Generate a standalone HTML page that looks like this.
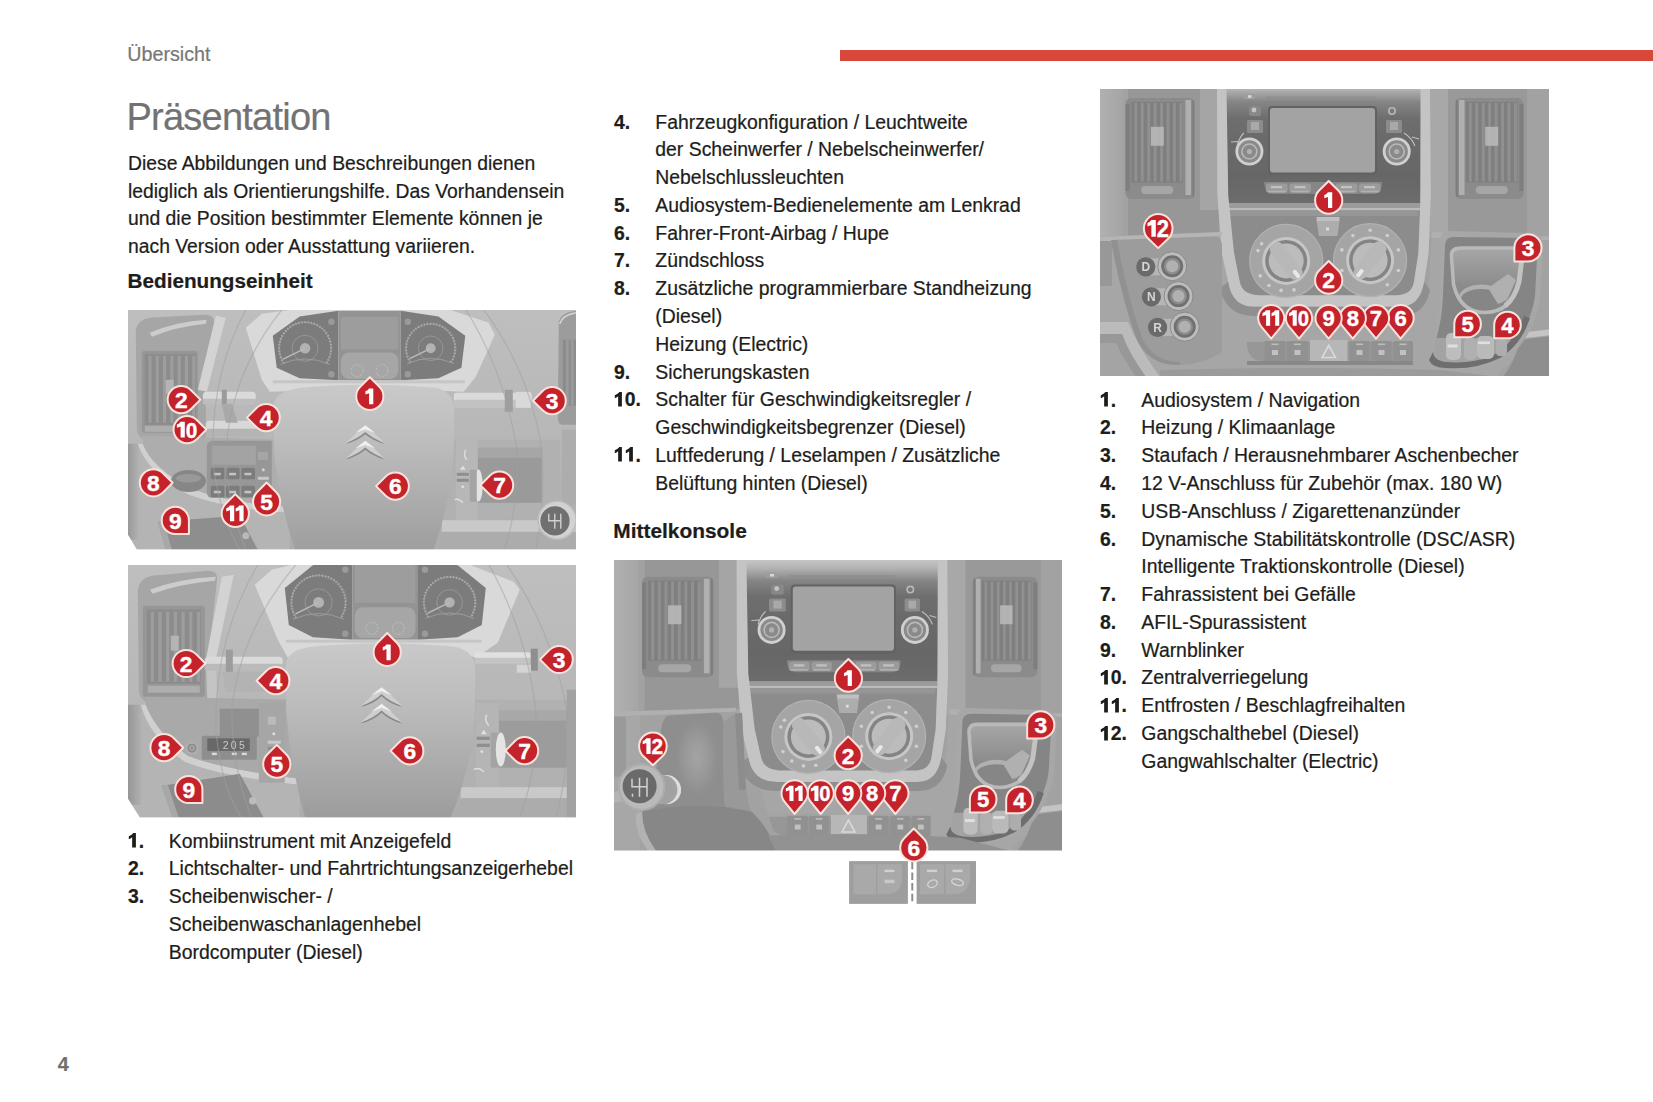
<!DOCTYPE html>
<html lang="de"><head><meta charset="utf-8"><title>Übersicht</title>
<style>
html,body{margin:0;padding:0;background:#fff;}
body{width:1653px;height:1102px;position:relative;overflow:hidden;font-family:"Liberation Sans",sans-serif;}
.t{position:absolute;white-space:nowrap;line-height:27.78px;height:27.78px;-webkit-text-stroke:0.22px currentColor;}
.bar{position:absolute;left:840px;top:49.5px;width:813px;height:11.5px;background:#d7483b;}
svg{position:absolute;overflow:hidden;}
svg.n1{position:static;display:inline-block;overflow:visible;vertical-align:baseline;}
svg text{font-family:"Liberation Sans",sans-serif;font-weight:700;fill:#fff;text-anchor:middle;}
</style></head><body>
<div class="bar"></div>
<svg width="0" height="0" style="position:absolute"><defs>
<filter id="soft" x="-2%" y="-2%" width="104%" height="104%"><feGaussianBlur stdDeviation="0.75"/></filter>
</defs></svg>

<div class="t" style="left:127.3px;top:40.58px;font-size:19.7px;color:#777777;">Übersicht</div>
<div class="t" style="left:126.4px;top:104.14px;font-size:38px;color:#727272;letter-spacing:-0.75px;">Präsentation</div>
<div class="t" style="left:128px;top:149.81px;font-size:19.33px;color:#1d1d1b;">Diese Abbildungen und Beschreibungen dienen</div>
<div class="t" style="left:128px;top:177.61px;font-size:19.33px;color:#1d1d1b;">lediglich als Orientierungshilfe. Das Vorhandensein</div>
<div class="t" style="left:128px;top:205.41px;font-size:19.33px;color:#1d1d1b;">und die Position bestimmter Elemente können je</div>
<div class="t" style="left:128px;top:233.11px;font-size:19.33px;color:#1d1d1b;">nach Version oder Ausstattung variieren.</div>
<div class="t" style="left:127.6px;top:267.14px;font-size:20.7px;font-weight:700;color:#1d1d1b;">Bedienungseinheit</div>
<div class="t" style="left:128px;top:827.69px;font-size:19.4px;font-weight:700;color:#1d1d1b;"><svg class="n1" width="10.79" height="14.5" viewBox="0 -14.5 10.79 14.5"><path d="M5.4,-14.5 L7.9,-14.5 L7.9,0 L4.15,0 L4.15,-10.3 Q2.6,-9.0 0.8,-8.3 L0.8,-11.3 Q4.1,-12.4 5.4,-14.5 Z" fill="#1d1d1b"/></svg>.</div>
<div class="t" style="left:168.8px;top:827.69px;font-size:19.4px;color:#1d1d1b;">Kombiinstrument mit Anzeigefeld</div>
<div class="t" style="left:128px;top:855.47px;font-size:19.4px;font-weight:700;color:#1d1d1b;">2.</div>
<div class="t" style="left:168.8px;top:855.47px;font-size:19.4px;color:#1d1d1b;">Lichtschalter- und Fahrtrichtungsanzeigerhebel</div>
<div class="t" style="left:128px;top:883.25px;font-size:19.4px;font-weight:700;color:#1d1d1b;">3.</div>
<div class="t" style="left:168.8px;top:883.25px;font-size:19.4px;color:#1d1d1b;">Scheibenwischer- /</div>
<div class="t" style="left:168.8px;top:911.03px;font-size:19.4px;color:#1d1d1b;">Scheibenwaschanlagenhebel</div>
<div class="t" style="left:168.8px;top:938.81px;font-size:19.4px;color:#1d1d1b;">Bordcomputer (Diesel)</div>
<div class="t" style="left:614px;top:108.59px;font-size:19.4px;font-weight:700;color:#1d1d1b;">4.</div>
<div class="t" style="left:655.3px;top:108.59px;font-size:19.4px;color:#1d1d1b;">Fahrzeugkonfiguration / Leuchtweite</div>
<div class="t" style="left:655.3px;top:136.37px;font-size:19.4px;color:#1d1d1b;">der Scheinwerfer / Nebelscheinwerfer/</div>
<div class="t" style="left:655.3px;top:164.15px;font-size:19.4px;color:#1d1d1b;">Nebelschlussleuchten</div>
<div class="t" style="left:614px;top:191.93px;font-size:19.4px;font-weight:700;color:#1d1d1b;">5.</div>
<div class="t" style="left:655.3px;top:191.93px;font-size:19.4px;color:#1d1d1b;">Audiosystem-Bedienelemente am Lenkrad</div>
<div class="t" style="left:614px;top:219.71px;font-size:19.4px;font-weight:700;color:#1d1d1b;">6.</div>
<div class="t" style="left:655.3px;top:219.71px;font-size:19.4px;color:#1d1d1b;">Fahrer-Front-Airbag / Hupe</div>
<div class="t" style="left:614px;top:247.49px;font-size:19.4px;font-weight:700;color:#1d1d1b;">7.</div>
<div class="t" style="left:655.3px;top:247.49px;font-size:19.4px;color:#1d1d1b;">Zündschloss</div>
<div class="t" style="left:614px;top:275.27px;font-size:19.4px;font-weight:700;color:#1d1d1b;">8.</div>
<div class="t" style="left:655.3px;top:275.27px;font-size:19.4px;color:#1d1d1b;">Zusätzliche programmierbare Standheizung</div>
<div class="t" style="left:655.3px;top:303.05px;font-size:19.4px;color:#1d1d1b;">(Diesel)</div>
<div class="t" style="left:655.3px;top:330.83px;font-size:19.4px;color:#1d1d1b;">Heizung (Electric)</div>
<div class="t" style="left:614px;top:358.61px;font-size:19.4px;font-weight:700;color:#1d1d1b;">9.</div>
<div class="t" style="left:655.3px;top:358.61px;font-size:19.4px;color:#1d1d1b;">Sicherungskasten</div>
<div class="t" style="left:614px;top:386.39px;font-size:19.4px;font-weight:700;color:#1d1d1b;"><svg class="n1" width="10.79" height="14.5" viewBox="0 -14.5 10.79 14.5"><path d="M5.4,-14.5 L7.9,-14.5 L7.9,0 L4.15,0 L4.15,-10.3 Q2.6,-9.0 0.8,-8.3 L0.8,-11.3 Q4.1,-12.4 5.4,-14.5 Z" fill="#1d1d1b"/></svg>0.</div>
<div class="t" style="left:655.3px;top:386.39px;font-size:19.4px;color:#1d1d1b;">Schalter für Geschwindigkeitsregler /</div>
<div class="t" style="left:655.3px;top:414.17px;font-size:19.4px;color:#1d1d1b;">Geschwindigkeitsbegrenzer (Diesel)</div>
<div class="t" style="left:614px;top:441.95px;font-size:19.4px;font-weight:700;color:#1d1d1b;"><svg class="n1" width="10.79" height="14.5" viewBox="0 -14.5 10.79 14.5"><path d="M5.4,-14.5 L7.9,-14.5 L7.9,0 L4.15,0 L4.15,-10.3 Q2.6,-9.0 0.8,-8.3 L0.8,-11.3 Q4.1,-12.4 5.4,-14.5 Z" fill="#1d1d1b"/></svg><svg class="n1" width="10.79" height="14.5" viewBox="0 -14.5 10.79 14.5"><path d="M5.4,-14.5 L7.9,-14.5 L7.9,0 L4.15,0 L4.15,-10.3 Q2.6,-9.0 0.8,-8.3 L0.8,-11.3 Q4.1,-12.4 5.4,-14.5 Z" fill="#1d1d1b"/></svg>.</div>
<div class="t" style="left:655.3px;top:441.95px;font-size:19.4px;color:#1d1d1b;">Luftfederung / Leselampen / Zusätzliche</div>
<div class="t" style="left:655.3px;top:469.73px;font-size:19.4px;color:#1d1d1b;">Belüftung hinten (Diesel)</div>
<div class="t" style="left:613.3px;top:517.12px;font-size:20.9px;font-weight:700;color:#1d1d1b;">Mittelkonsole</div>
<div class="t" style="left:1100px;top:386.69px;font-size:19.4px;font-weight:700;color:#1d1d1b;"><svg class="n1" width="10.79" height="14.5" viewBox="0 -14.5 10.79 14.5"><path d="M5.4,-14.5 L7.9,-14.5 L7.9,0 L4.15,0 L4.15,-10.3 Q2.6,-9.0 0.8,-8.3 L0.8,-11.3 Q4.1,-12.4 5.4,-14.5 Z" fill="#1d1d1b"/></svg>.</div>
<div class="t" style="left:1141.3px;top:386.69px;font-size:19.4px;color:#1d1d1b;">Audiosystem / Navigation</div>
<div class="t" style="left:1100px;top:414.47px;font-size:19.4px;font-weight:700;color:#1d1d1b;">2.</div>
<div class="t" style="left:1141.3px;top:414.47px;font-size:19.4px;color:#1d1d1b;">Heizung / Klimaanlage</div>
<div class="t" style="left:1100px;top:442.25px;font-size:19.4px;font-weight:700;color:#1d1d1b;">3.</div>
<div class="t" style="left:1141.3px;top:442.25px;font-size:19.4px;color:#1d1d1b;">Staufach / Herausnehmbarer Aschenbecher</div>
<div class="t" style="left:1100px;top:470.03px;font-size:19.4px;font-weight:700;color:#1d1d1b;">4.</div>
<div class="t" style="left:1141.3px;top:470.03px;font-size:19.4px;color:#1d1d1b;">12 V-Anschluss für Zubehör (max. 180 W)</div>
<div class="t" style="left:1100px;top:497.81px;font-size:19.4px;font-weight:700;color:#1d1d1b;">5.</div>
<div class="t" style="left:1141.3px;top:497.81px;font-size:19.4px;color:#1d1d1b;">USB-Anschluss / Zigarettenanzünder</div>
<div class="t" style="left:1100px;top:525.59px;font-size:19.4px;font-weight:700;color:#1d1d1b;">6.</div>
<div class="t" style="left:1141.3px;top:525.59px;font-size:19.4px;color:#1d1d1b;">Dynamische Stabilitätskontrolle (DSC/ASR)</div>
<div class="t" style="left:1141.3px;top:553.37px;font-size:19.4px;color:#1d1d1b;">Intelligente Traktionskontrolle (Diesel)</div>
<div class="t" style="left:1100px;top:581.15px;font-size:19.4px;font-weight:700;color:#1d1d1b;">7.</div>
<div class="t" style="left:1141.3px;top:581.15px;font-size:19.4px;color:#1d1d1b;">Fahrassistent bei Gefälle</div>
<div class="t" style="left:1100px;top:608.93px;font-size:19.4px;font-weight:700;color:#1d1d1b;">8.</div>
<div class="t" style="left:1141.3px;top:608.93px;font-size:19.4px;color:#1d1d1b;">AFIL-Spurassistent</div>
<div class="t" style="left:1100px;top:636.71px;font-size:19.4px;font-weight:700;color:#1d1d1b;">9.</div>
<div class="t" style="left:1141.3px;top:636.71px;font-size:19.4px;color:#1d1d1b;">Warnblinker</div>
<div class="t" style="left:1100px;top:664.49px;font-size:19.4px;font-weight:700;color:#1d1d1b;"><svg class="n1" width="10.79" height="14.5" viewBox="0 -14.5 10.79 14.5"><path d="M5.4,-14.5 L7.9,-14.5 L7.9,0 L4.15,0 L4.15,-10.3 Q2.6,-9.0 0.8,-8.3 L0.8,-11.3 Q4.1,-12.4 5.4,-14.5 Z" fill="#1d1d1b"/></svg>0.</div>
<div class="t" style="left:1141.3px;top:664.49px;font-size:19.4px;color:#1d1d1b;">Zentralverriegelung</div>
<div class="t" style="left:1100px;top:692.27px;font-size:19.4px;font-weight:700;color:#1d1d1b;"><svg class="n1" width="10.79" height="14.5" viewBox="0 -14.5 10.79 14.5"><path d="M5.4,-14.5 L7.9,-14.5 L7.9,0 L4.15,0 L4.15,-10.3 Q2.6,-9.0 0.8,-8.3 L0.8,-11.3 Q4.1,-12.4 5.4,-14.5 Z" fill="#1d1d1b"/></svg><svg class="n1" width="10.79" height="14.5" viewBox="0 -14.5 10.79 14.5"><path d="M5.4,-14.5 L7.9,-14.5 L7.9,0 L4.15,0 L4.15,-10.3 Q2.6,-9.0 0.8,-8.3 L0.8,-11.3 Q4.1,-12.4 5.4,-14.5 Z" fill="#1d1d1b"/></svg>.</div>
<div class="t" style="left:1141.3px;top:692.27px;font-size:19.4px;color:#1d1d1b;">Entfrosten / Beschlagfreihalten</div>
<div class="t" style="left:1100px;top:720.05px;font-size:19.4px;font-weight:700;color:#1d1d1b;"><svg class="n1" width="10.79" height="14.5" viewBox="0 -14.5 10.79 14.5"><path d="M5.4,-14.5 L7.9,-14.5 L7.9,0 L4.15,0 L4.15,-10.3 Q2.6,-9.0 0.8,-8.3 L0.8,-11.3 Q4.1,-12.4 5.4,-14.5 Z" fill="#1d1d1b"/></svg>2.</div>
<div class="t" style="left:1141.3px;top:720.05px;font-size:19.4px;color:#1d1d1b;">Gangschalthebel (Diesel)</div>
<div class="t" style="left:1141.3px;top:747.83px;font-size:19.4px;color:#1d1d1b;">Gangwahlschalter (Electric)</div>
<div class="t" style="left:57.8px;top:1050.85px;font-size:19.8px;font-weight:700;color:#707070;">4</div>
<svg style="left:128.2px;top:310.2px" width="448" height="239.6" viewBox="128.2 310.2 448 239.6">
<defs>
<clipPath id="c1"><path d="M128.2,310.2 H576.2 V549.8 H137 L128.2,535 Z"/></clipPath>
<linearGradient id="hub1" x1="0" y1="0" x2="0" y2="1"><stop offset="0" stop-color="#c9c9c9"/><stop offset="0.35" stop-color="#bcbcbc"/><stop offset="1" stop-color="#9e9e9e"/></linearGradient>
<linearGradient id="bg1" x1="0" y1="0" x2="0" y2="1"><stop offset="0" stop-color="#bfbfbf"/><stop offset="0.6" stop-color="#b6b6b6"/><stop offset="1" stop-color="#ababab"/></linearGradient>
<linearGradient id="lft1" x1="0" y1="0" x2="1" y2="0"><stop offset="0" stop-color="#989898"/><stop offset="1" stop-color="#b2b2b2"/></linearGradient>
</defs><g clip-path="url(#c1)"><g filter="url(#soft)">
<rect x="120.0" y="300.0" width="470.0" height="260.0" fill="url(#bg1)"/>
<path d="M136.0,330.0 Q138.0,320.0 150.0,318.0 L205.0,315.0 Q216.0,315.0 214.0,326.0 L206.0,395.0 L206.0,440.0 L150.0,442.0 Q138.0,440.0 137.0,428.0 Z" fill="#a6a6a6"/>
<path d="M150.0,333.0 Q175.0,322.0 207.0,320.0 L206.0,324.0 Q176.0,327.0 152.0,337.0 Z" fill="#cccccc"/>
<rect x="142.0" y="351.0" width="56.0" height="82.0" rx="3" fill="#969696"/>
<rect x="145.0" y="354.0" width="51.0" height="71.0" fill="#8c8c8c"/>
<rect x="148.6" y="356.0" width="3.1" height="67.0" fill="#9d9d9d"/>
<rect x="155.9" y="356.0" width="3.1" height="67.0" fill="#9d9d9d"/>
<rect x="163.2" y="356.0" width="3.1" height="67.0" fill="#9d9d9d"/>
<rect x="170.5" y="356.0" width="3.1" height="67.0" fill="#9d9d9d"/>
<rect x="177.8" y="356.0" width="3.1" height="67.0" fill="#9d9d9d"/>
<rect x="185.1" y="356.0" width="3.1" height="67.0" fill="#9d9d9d"/>
<rect x="192.4" y="356.0" width="3.1" height="67.0" fill="#9d9d9d"/>
<rect x="166.0" y="380.0" width="8.0" height="14.0" fill="#b4b4b4"/>
<rect x="145.0" y="426.0" width="52.0" height="6.0" fill="#aeaeae"/>
<path d="M216.0,316.0 L226.0,318.0 L207.0,392.0 L198.0,390.0 Z" fill="#d3d3d3"/>
<path d="M128.0,444.0 L140.0,444.0 Q150.0,470.0 190.0,492.0 Q230.0,508.0 290.0,512.0 L290.0,560.0 L128.0,560.0 Z" fill="#b4b4b4"/>
<path d="M128.0,444.0 L139.0,444.0 L139.0,540.0 L128.0,540.0 Z" fill="url(#lft1)"/>
<path d="M138.0,444.0 L143.0,444.0 Q152.0,468.0 192.0,489.0 Q232.0,504.0 290.0,507.0 L290.0,513.0 Q230.0,510.0 189.0,495.0 Q148.0,474.0 138.0,444.0 Z" fill="#d0d0d0"/>
<path d="M143.0,444.0 Q152.0,468.0 192.0,489.0 Q232.0,504.0 290.0,507.0 L290.0,440.0 L143.0,436.0 Z" fill="#adadad"/>
<path d="M158.0,522.0 L240.0,516.0 L258.0,550.0 L166.0,550.0 Z" fill="#8e8e8e"/>
<path d="M158.0,522.0 L164.0,521.0 L172.0,550.0 L166.0,550.0 Z" fill="#a8a8a8"/>
<circle cx="246.0" cy="536.0" r="3.5" fill="#b9b9b9"/>
<path d="M246.0,328.0 L262.0,314.0 L292.0,310.0 L450.0,310.0 L489.0,323.0 L495.0,335.0 L476.0,377.0 L464.0,392.0 L440.0,391.0 L300.0,391.0 L270.0,392.0 L262.0,380.0 Z" fill="#d9d9d9"/>
<path d="M273.0,336.0 L299.9,316.6 L338.6,311.0 L338.6,380.5 L299.9,378.4 L276.9,368.0 Z" fill="#7c7c7c"/>
<path d="M465.5,336.0 L438.6,316.6 L401.0,311.0 L401.0,380.5 L438.6,378.4 L461.6,368.0 Z" fill="#7c7c7c"/>
<rect x="338.6" y="311.0" width="62.4" height="69.5" fill="#939393"/>
<rect x="341.1" y="317.0" width="57.4" height="32.7" fill="#9d9d9d"/>
<rect x="341.1" y="352.7" width="57.4" height="26.4" rx="8" fill="#a6a6a6"/>
<circle cx="357.3" cy="370.8" r="6" fill="none" stroke="#c0c0c0" stroke-width="1.2" stroke-dasharray="1,1.5"/>
<circle cx="382.3" cy="370.8" r="6" fill="none" stroke="#c0c0c0" stroke-width="1.2" stroke-dasharray="1,1.5"/>
<path d="M284.1,363.4 A26.0,26.0 0 1 1 326.6,363.4" fill="none" stroke="#b4b4b4" stroke-width="2.2" stroke-dasharray="1.2,1.9"/>
<path d="M284.1,363.4 A26.0,26.0 0 1 1 326.6,363.4" fill="none" stroke="#a2a2a2" stroke-width="0.8" transform="translate(0,0)"/>
<circle cx="305.3" cy="348.5" r="12.99375" fill="none" stroke="#969696" stroke-width="1"/>
<circle cx="305.3" cy="348.5" r="5.197500000000001" fill="#b2b2b2"/>
<path d="M305.3,348.5 L283.3,359.4" fill="none" stroke="#bcbcbc" stroke-width="1.3"/>
<path d="M280.7,364.6 Q305.3,353.7 330.0,364.6" fill="none" stroke="#9c9c9c" stroke-width="1"/>
<path d="M410.7,362.7 A24.6,24.6 0 1 1 451.0,362.7" fill="none" stroke="#b4b4b4" stroke-width="2.2" stroke-dasharray="1.2,1.9"/>
<path d="M410.7,362.7 A24.6,24.6 0 1 1 451.0,362.7" fill="none" stroke="#a2a2a2" stroke-width="0.8" transform="translate(0,0)"/>
<circle cx="430.9" cy="348.5" r="12.32" fill="none" stroke="#969696" stroke-width="1"/>
<circle cx="430.9" cy="348.5" r="4.928000000000001" fill="#b2b2b2"/>
<path d="M430.9,348.5 L409.9,358.9" fill="none" stroke="#bcbcbc" stroke-width="1.3"/>
<path d="M407.4,363.8 Q430.9,353.5 454.3,363.8" fill="none" stroke="#9c9c9c" stroke-width="1"/>
<circle cx="331.6" cy="322.0" r="3.2" fill="#9a9a9a"/>
<circle cx="331.6" cy="374.5" r="3.2" fill="#9a9a9a"/>
<circle cx="408.0" cy="322.0" r="3.2" fill="#9a9a9a"/>
<circle cx="408.0" cy="374.5" r="3.2" fill="#9a9a9a"/>
<rect x="273.0" y="380.5" width="192.0" height="3.0" fill="#c6c6c6"/>
<rect x="203.0" y="392.0" width="53.0" height="9.0" rx="4" fill="#dadada"/>
<rect x="203.0" y="399.0" width="53.0" height="6.0" rx="2" fill="#bdbdbd"/>
<rect x="222.0" y="390.0" width="5.0" height="16.0" fill="#9a9a9a"/>
<rect x="206.0" y="421.0" width="58.0" height="10.0" rx="4" fill="#d8d8d8"/>
<rect x="206.0" y="429.0" width="58.0" height="7.0" rx="2" fill="#b4b4b4"/>
<path d="M222.0,404.0 L232.0,404.0 L238.0,423.0 L226.0,423.0 Z" fill="#a9a9a9"/>
<path d="M207.0,446.0 Q208.0,441.0 214.0,441.0 L272.0,441.0 L272.0,498.0 L212.0,498.0 Q207.0,498.0 207.0,492.0 Z" fill="#979797"/>
<rect x="212.0" y="446.0" width="44.0" height="19.0" fill="#a3a3a3"/>
<rect x="211.0" y="468.0" width="13.5" height="11.5" rx="1.5" fill="#7b7b7b"/>
<rect x="214.0" y="473.0" width="7.0" height="2.5" fill="#c4c4c4"/>
<rect x="226.3" y="468.0" width="13.5" height="11.5" rx="1.5" fill="#7b7b7b"/>
<rect x="229.3" y="473.0" width="7.0" height="2.5" fill="#c4c4c4"/>
<rect x="241.6" y="468.0" width="13.5" height="11.5" rx="1.5" fill="#7b7b7b"/>
<rect x="244.6" y="473.0" width="7.0" height="2.5" fill="#c4c4c4"/>
<rect x="211.0" y="486.0" width="13.5" height="11.5" rx="1.5" fill="#7b7b7b"/>
<rect x="214.0" y="491.0" width="7.0" height="2.5" fill="#c4c4c4"/>
<rect x="226.3" y="486.0" width="13.5" height="11.5" rx="1.5" fill="#7b7b7b"/>
<rect x="229.3" y="491.0" width="7.0" height="2.5" fill="#c4c4c4"/>
<rect x="241.6" y="486.0" width="13.5" height="11.5" rx="1.5" fill="#7b7b7b"/>
<rect x="244.6" y="491.0" width="7.0" height="2.5" fill="#c4c4c4"/>
<rect x="258.0" y="452.0" width="10.0" height="8.0" fill="#b0b0b0" opacity="0.6"/>
<circle cx="263.5" cy="470.0" r="1.5" fill="#d5d5d5"/>
<rect x="258.0" y="477.0" width="11.0" height="3.0" fill="#c9c9c9"/>
<ellipse cx="188.7" cy="481.2" rx="17.5" ry="11" fill="#878787"/>
<ellipse cx="188.7" cy="478.5" rx="12.5" ry="4.2" fill="#999999"/>
<path d="M454.0,440.0 L560.0,440.0 L560.0,520.0 L442.0,520.0 Z" fill="#b1b1b1"/>
<rect x="478.0" y="448.0" width="64.0" height="55.0" fill="#9a9a9a"/>
<rect x="478.0" y="448.0" width="64.0" height="10.0" fill="#a6a6a6"/>
<rect x="456.0" y="440.0" width="22.0" height="80.0" fill="#b7b7b7"/>
<path d="M466.0,450.0 Q463.0,455.0 467.0,460.0" fill="none" stroke="#dcdcdc" stroke-width="1.5"/>
<rect x="457.0" y="473.0" width="12.0" height="3.0" fill="#8e8e8e"/>
<rect x="457.0" y="479.0" width="12.0" height="3.0" fill="#8e8e8e"/>
<path d="M463.0,466.0 L466.0,470.0 L460.0,470.0 Z" fill="#e0e0e0"/>
<circle cx="463.0" cy="487.0" r="1.4" fill="#e0e0e0"/>
<path d="M455.0,500.0 Q459.0,498.0 463.0,503.0" fill="none" stroke="#dcdcdc" stroke-width="1.5"/>
<ellipse cx="478.7" cy="485.7" rx="4.2" ry="16" fill="#e4e4e4"/>
<rect x="470.0" y="470.0" width="7.0" height="32.0" fill="#a4a4a4"/>
<rect x="442.0" y="520.4" width="134.0" height="12.0" fill="#c9c9c9"/>
<rect x="442.0" y="532.0" width="134.0" height="20.0" fill="#acacac"/>
<rect x="562.0" y="430.0" width="15.0" height="75.0" fill="#adadad"/>
<rect x="454.0" y="393.0" width="78.0" height="9.0" rx="3" fill="#dadada"/>
<rect x="454.0" y="400.0" width="78.0" height="8.0" rx="2" fill="#c2c2c2"/>
<rect x="505.0" y="390.0" width="8.0" height="22.0" fill="#9e9e9e"/>
<rect x="516.0" y="392.0" width="15.0" height="16.0" fill="#d9d9d9"/>
<path d="M559.0,322.0 Q562.0,312.0 577.0,311.0 L577.0,425.0 L562.0,425.0 Q558.0,424.0 558.0,418.0 Z" fill="#9c9c9c"/>
<rect x="563.0" y="340.0" width="14.0" height="66.0" fill="#8b8b8b"/>
<rect x="566.0" y="340.0" width="3.0" height="66.0" fill="#9a9a9a"/>
<rect x="571.0" y="340.0" width="3.0" height="66.0" fill="#9a9a9a"/>
<path d="M560.0,324.0 Q563.0,315.0 576.0,313.0" fill="none" stroke="#d6d6d6" stroke-width="1.6"/>
<path d="M246.0,310.0 Q208.0,380.0 214.0,470.0 Q222.0,520.0 240.0,550.0" fill="none" stroke="#a0a0a0" stroke-width="1.2" stroke-opacity="0.55"/>
<path d="M282.0,310.0 Q232.0,372.0 226.0,450.0 Q226.0,500.0 246.0,550.0" fill="none" stroke="#a0a0a0" stroke-width="1.2" stroke-opacity="0.55"/>
<path d="M466.0,310.0 Q505.0,372.0 517.0,450.0 Q520.0,500.0 505.0,550.0" fill="none" stroke="#a0a0a0" stroke-width="1.2" stroke-opacity="0.55"/>
<path d="M484.0,310.0 Q530.0,372.0 542.0,450.0 Q546.0,500.0 536.0,550.0" fill="none" stroke="#a0a0a0" stroke-width="1.2" stroke-opacity="0.55"/>
<path d="M274.0,404.0 Q276.0,392.0 300.0,388.0 Q365.0,382.0 436.0,388.0 Q454.0,392.0 454.5,410.0 L454.0,450.0 Q452.0,500.0 433.0,552.0 L296.0,552.0 Q278.0,500.0 274.0,450.0 Z" fill="url(#hub1)"/>
<path d="M346.5,444.2 Q356.9,435.4 365.5,428.0 Q374.1,435.4 384.5,444.2 Q373.1,440.9 365.5,434.5 Q357.9,440.9 346.5,444.2 Z" fill="#8a8a8a"/>
<path d="M346.5,443.0 Q356.9,432.7 365.5,425.0 Q374.1,432.7 384.5,443.0 Q373.1,438.8 365.5,432.2 Q357.9,438.8 346.5,443.0 Z" fill="#cfcfcf"/>
<path d="M356.0,432.9 Q361.7,428.3 365.5,425.8 Q369.3,428.3 375.0,432.9 L365.5,429.6 Z" fill="#f0f0f0"/>
<path d="M346.5,459.7 Q356.9,450.9 365.5,443.5 Q374.1,450.9 384.5,459.7 Q373.1,456.4 365.5,450.0 Q357.9,456.4 346.5,459.7 Z" fill="#8a8a8a"/>
<path d="M346.5,458.5 Q356.9,448.2 365.5,440.5 Q374.1,448.2 384.5,458.5 Q373.1,454.2 365.5,447.7 Q357.9,454.2 346.5,458.5 Z" fill="#cfcfcf"/>
<path d="M356.0,448.4 Q361.7,443.8 365.5,441.3 Q369.3,443.8 375.0,448.4 L365.5,445.1 Z" fill="#f0f0f0"/>
<circle cx="557.3" cy="520.4" r="19" fill="#d2d2d2"/>
<circle cx="557.3" cy="520.4" r="19" fill="none" stroke="#bdbdbd" stroke-width="1.5"/>
<circle cx="555.2" cy="521.1" r="14.6" fill="#707070"/>
<path d="M549.0,514.0 L549.0,521.0 L555.0,521.0 M555.0,514.0 L555.0,529.0 M561.0,514.0 L561.0,529.0 M555.0,521.0 L561.0,521.0" fill="none" stroke="#d0d0d0" stroke-width="1.4"/>
</g></g>
<g transform="translate(370.0,396.6)"><g transform="scale(1.0,1)"><path transform="rotate(0)" d="M0,-19.23 L9.62,-9.62 A13.6,13.6 0 1 1 -9.62,-9.62 Z" fill="#c4232b" stroke="#f9e2dc" stroke-width="2.0" stroke-linejoin="round"/></g><g transform="scale(1.0)"><path d="M-1.4,-7.9 L2.9,-7.9 L2.9,7.9 L-1.3,7.9 L-1.3,-3.2 L-5.0,-1.9 L-5.0,-5.2 Q-2.4,-5.9 -1.4,-7.9 Z" fill="#fff" transform="translate(0.6,0)"/></g></g>
<g transform="translate(181.4,399.8)"><g transform="scale(1.0,1)"><path transform="rotate(90)" d="M0,-19.23 L9.62,-9.62 A13.6,13.6 0 1 1 -9.62,-9.62 Z" fill="#c4232b" stroke="#f9e2dc" stroke-width="2.0" stroke-linejoin="round"/></g><g transform="scale(1.0)"><text x="0" y="8.1" font-size="22.8" stroke="#fff" stroke-width="0.4">2</text></g></g>
<g transform="translate(552.4,400.9)"><g transform="scale(1.0,1)"><path transform="rotate(270)" d="M0,-19.23 L9.62,-9.62 A13.6,13.6 0 1 1 -9.62,-9.62 Z" fill="#c4232b" stroke="#f9e2dc" stroke-width="2.0" stroke-linejoin="round"/></g><g transform="scale(1.0)"><text x="0" y="8.1" font-size="22.8" stroke="#fff" stroke-width="0.4">3</text></g></g>
<g transform="translate(266.4,417.8)"><g transform="scale(1.0,1)"><path transform="rotate(270)" d="M0,-19.23 L9.62,-9.62 A13.6,13.6 0 1 1 -9.62,-9.62 Z" fill="#c4232b" stroke="#f9e2dc" stroke-width="2.0" stroke-linejoin="round"/></g><g transform="scale(1.0)"><text x="0" y="8.1" font-size="22.8" stroke="#fff" stroke-width="0.4">4</text></g></g>
<g transform="translate(266.8,502.0)"><g transform="scale(1.0,1)"><path transform="rotate(0)" d="M0,-19.23 L9.62,-9.62 A13.6,13.6 0 1 1 -9.62,-9.62 Z" fill="#c4232b" stroke="#f9e2dc" stroke-width="2.0" stroke-linejoin="round"/></g><g transform="scale(1.0)"><text x="0" y="8.1" font-size="22.8" stroke="#fff" stroke-width="0.4">5</text></g></g>
<g transform="translate(395.5,486.3)"><g transform="scale(1.0,1)"><path transform="rotate(270)" d="M0,-19.23 L9.62,-9.62 A13.6,13.6 0 1 1 -9.62,-9.62 Z" fill="#c4232b" stroke="#f9e2dc" stroke-width="2.0" stroke-linejoin="round"/></g><g transform="scale(1.0)"><text x="0" y="8.1" font-size="22.8" stroke="#fff" stroke-width="0.4">6</text></g></g>
<g transform="translate(499.8,485.4)"><g transform="scale(1.0,1)"><path transform="rotate(270)" d="M0,-19.23 L9.62,-9.62 A13.6,13.6 0 1 1 -9.62,-9.62 Z" fill="#c4232b" stroke="#f9e2dc" stroke-width="2.0" stroke-linejoin="round"/></g><g transform="scale(1.0)"><text x="0" y="8.1" font-size="22.8" stroke="#fff" stroke-width="0.4">7</text></g></g>
<g transform="translate(153.6,483.0)"><g transform="scale(1.0,1)"><path transform="rotate(90)" d="M0,-19.23 L9.62,-9.62 A13.6,13.6 0 1 1 -9.62,-9.62 Z" fill="#c4232b" stroke="#f9e2dc" stroke-width="2.0" stroke-linejoin="round"/></g><g transform="scale(1.0)"><text x="0" y="8.1" font-size="22.8" stroke="#fff" stroke-width="0.4">8</text></g></g>
<g transform="translate(175.5,520.6)"><g transform="scale(1.0,1)"><path transform="rotate(135)" d="M0,-19.23 L9.62,-9.62 A13.6,13.6 0 1 1 -9.62,-9.62 Z" fill="#c4232b" stroke="#f9e2dc" stroke-width="2.0" stroke-linejoin="round"/></g><g transform="scale(1.0)"><text x="0" y="8.1" font-size="22.8" stroke="#fff" stroke-width="0.4">9</text></g></g>
<g transform="translate(187.3,429.8)"><g transform="scale(1.0,1)"><path transform="rotate(90)" d="M0,-19.23 L9.62,-9.62 A13.6,13.6 0 1 1 -9.62,-9.62 Z" fill="#c4232b" stroke="#f9e2dc" stroke-width="2.0" stroke-linejoin="round"/></g><g transform="scale(1.0)"><path d="M-1.4,-7.9 L2.9,-7.9 L2.9,7.9 L-1.3,7.9 L-1.3,-3.2 L-5.0,-1.9 L-5.0,-5.2 Q-2.4,-5.9 -1.4,-7.9 Z" fill="#fff" transform="translate(-5.2,0)"/><text x="4.4" y="7.9" font-size="22.2" textLength="11.6" lengthAdjust="spacingAndGlyphs" stroke="#fff" stroke-width="0.4">0</text></g></g>
<g transform="translate(235.5,513.6)"><g transform="scale(1.0,1)"><path transform="rotate(0)" d="M0,-19.23 L9.62,-9.62 A13.6,13.6 0 1 1 -9.62,-9.62 Z" fill="#c4232b" stroke="#f9e2dc" stroke-width="2.0" stroke-linejoin="round"/></g><g transform="scale(1.0)"><path d="M-1.4,-7.9 L2.9,-7.9 L2.9,7.9 L-1.3,7.9 L-1.3,-3.2 L-5.0,-1.9 L-5.0,-5.2 Q-2.4,-5.9 -1.4,-7.9 Z" fill="#fff" transform="translate(-4.0,0)"/><path d="M-1.4,-7.9 L2.9,-7.9 L2.9,7.9 L-1.3,7.9 L-1.3,-3.2 L-5.0,-1.9 L-5.0,-5.2 Q-2.4,-5.9 -1.4,-7.9 Z" fill="#fff" transform="translate(5.4,0)"/></g></g>
</svg>
<svg style="left:128.2px;top:565.3px" width="448.2" height="252.6" viewBox="128.2 565.3 448.2 252.6">
<defs>
<clipPath id="c2"><path d="M128.2,565.3 H576.4 V817.9 H140 L128.2,799 Z"/></clipPath>
<linearGradient id="hub2" x1="0" y1="0" x2="0" y2="1"><stop offset="0" stop-color="#c9c9c9"/><stop offset="0.35" stop-color="#bcbcbc"/><stop offset="1" stop-color="#9c9c9c"/></linearGradient>
<linearGradient id="bg2" x1="0" y1="0" x2="0" y2="1"><stop offset="0" stop-color="#bfbfbf"/><stop offset="0.6" stop-color="#b6b6b6"/><stop offset="1" stop-color="#ababab"/></linearGradient>
<linearGradient id="lft2" x1="0" y1="0" x2="1" y2="0"><stop offset="0" stop-color="#969696"/><stop offset="1" stop-color="#b2b2b2"/></linearGradient>
</defs><g clip-path="url(#c2)"><g filter="url(#soft)">
<rect x="120.0" y="555.0" width="470.0" height="275.0" fill="url(#bg2)"/>
<path d="M138.0,590.0 Q140.0,578.0 152.0,576.0 L208.0,571.0 Q219.0,571.0 217.0,582.0 L209.0,655.0 L209.0,702.0 L152.0,704.0 Q140.0,702.0 139.0,690.0 Z" fill="#a6a6a6"/>
<path d="M150.0,590.0 Q178.0,579.0 216.0,577.0 L215.0,581.0 Q180.0,584.0 153.0,594.0 Z" fill="#cccccc"/>
<rect x="143.0" y="606.0" width="62.0" height="91.0" rx="3" fill="#969696"/>
<rect x="147.0" y="610.0" width="54.0" height="74.0" fill="#8c8c8c"/>
<rect x="150.9" y="612.0" width="3.2" height="70.0" fill="#9d9d9d"/>
<rect x="158.6" y="612.0" width="3.2" height="70.0" fill="#9d9d9d"/>
<rect x="166.3" y="612.0" width="3.2" height="70.0" fill="#9d9d9d"/>
<rect x="174.0" y="612.0" width="3.2" height="70.0" fill="#9d9d9d"/>
<rect x="181.7" y="612.0" width="3.2" height="70.0" fill="#9d9d9d"/>
<rect x="189.4" y="612.0" width="3.2" height="70.0" fill="#9d9d9d"/>
<rect x="197.1" y="612.0" width="3.2" height="70.0" fill="#9d9d9d"/>
<rect x="171.0" y="636.0" width="8.0" height="15.0" fill="#b4b4b4"/>
<rect x="148.0" y="686.0" width="52.0" height="7.0" fill="#aeaeae"/>
<path d="M222.0,577.0 L234.0,575.0 L216.0,660.0 L206.0,660.0 Z" fill="#d3d3d3"/>
<path d="M206.0,660.0 L216.0,660.0 L218.0,712.0 L208.0,712.0 Z" fill="#c4c4c4"/>
<path d="M128.0,705.0 L143.0,705.0 Q150.0,730.0 186.0,757.0 Q222.0,772.0 300.0,782.0 L300.0,830.0 L128.0,830.0 Z" fill="#b4b4b4"/>
<path d="M128.0,705.0 L142.0,705.0 L142.0,805.0 L128.0,805.0 Z" fill="url(#lft2)"/>
<path d="M141.0,705.0 L146.0,705.0 Q156.0,732.0 188.0,756.0 Q224.0,770.0 300.0,779.0 L300.0,785.0 Q222.0,777.0 185.0,762.0 Q150.0,738.0 141.0,705.0 Z" fill="#d0d0d0"/>
<path d="M146.0,705.0 Q156.0,732.0 188.0,756.0 Q224.0,770.0 300.0,779.0 L300.0,700.0 L146.0,697.0 Z" fill="#a9a9a9"/>
<path d="M162.0,786.0 L202.0,780.0 L240.0,774.0 L264.0,818.0 L173.0,818.0 Z" fill="#8c8c8c"/>
<path d="M162.0,786.0 L168.0,785.0 L179.0,818.0 L173.0,818.0 Z" fill="#a8a8a8"/>
<circle cx="253.0" cy="801.0" r="3.8" fill="#bcbcbc"/>
<path d="M255.0,585.0 L272.0,570.0 L292.0,565.0 L470.0,565.0 L514.0,582.0 L520.0,590.0 L498.0,643.0 L476.0,658.0 L452.0,650.0 L310.0,650.0 L288.0,658.0 L278.0,640.0 Z" fill="#d9d9d9"/>
<path d="M285.0,588.2 L313.1,565.5 L352.5,559.0 L352.5,640.0 L313.1,637.6 L289.0,625.4 Z" fill="#7c7c7c"/>
<path d="M486.0,588.2 L457.9,565.5 L418.2,559.0 L418.2,640.0 L457.9,637.6 L482.0,625.4 Z" fill="#7c7c7c"/>
<rect x="352.5" y="559.0" width="65.7" height="81.0" fill="#939393"/>
<rect x="355.0" y="565.0" width="60.7" height="38.1" fill="#9d9d9d"/>
<rect x="355.0" y="607.6" width="60.7" height="30.8" rx="8" fill="#a6a6a6"/>
<circle cx="372.2" cy="628.7" r="6" fill="none" stroke="#c0c0c0" stroke-width="1.2" stroke-dasharray="1,1.5"/>
<circle cx="398.5" cy="628.7" r="6" fill="none" stroke="#c0c0c0" stroke-width="1.2" stroke-dasharray="1,1.5"/>
<path d="M296.5,618.3 A27.1,27.1 0 1 1 341.0,618.3" fill="none" stroke="#b4b4b4" stroke-width="2.2" stroke-dasharray="1.2,1.9"/>
<path d="M296.5,618.3 A27.1,27.1 0 1 1 341.0,618.3" fill="none" stroke="#a2a2a2" stroke-width="0.8" transform="translate(0,0)"/>
<circle cx="318.8" cy="602.7" r="13.5675" fill="none" stroke="#969696" stroke-width="1"/>
<circle cx="318.8" cy="602.7" r="5.4270000000000005" fill="#b2b2b2"/>
<path d="M318.8,602.7 L295.7,614.1" fill="none" stroke="#bcbcbc" stroke-width="1.3"/>
<path d="M293.0,619.6 Q318.8,608.2 344.5,619.6" fill="none" stroke="#9c9c9c" stroke-width="1"/>
<path d="M428.7,617.5 A25.7,25.7 0 1 1 470.9,617.5" fill="none" stroke="#b4b4b4" stroke-width="2.2" stroke-dasharray="1.2,1.9"/>
<path d="M428.7,617.5 A25.7,25.7 0 1 1 470.9,617.5" fill="none" stroke="#a2a2a2" stroke-width="0.8" transform="translate(0,0)"/>
<circle cx="449.8" cy="602.7" r="12.864" fill="none" stroke="#969696" stroke-width="1"/>
<circle cx="449.8" cy="602.7" r="5.145600000000001" fill="#b2b2b2"/>
<path d="M449.8,602.7 L428.0,613.5" fill="none" stroke="#bcbcbc" stroke-width="1.3"/>
<path d="M425.4,618.7 Q449.8,607.9 474.3,618.7" fill="none" stroke="#9c9c9c" stroke-width="1"/>
<circle cx="345.5" cy="570.0" r="3.2" fill="#9a9a9a"/>
<circle cx="345.5" cy="634.0" r="3.2" fill="#9a9a9a"/>
<circle cx="425.2" cy="570.0" r="3.2" fill="#9a9a9a"/>
<circle cx="425.2" cy="634.0" r="3.2" fill="#9a9a9a"/>
<rect x="286.0" y="640.0" width="196.0" height="3.0" fill="#c6c6c6"/>
<rect x="205.0" y="657.0" width="78.0" height="9.0" rx="4" fill="#dadada"/>
<rect x="205.0" y="664.0" width="78.0" height="7.0" rx="2" fill="#bababa"/>
<rect x="226.0" y="650.0" width="7.0" height="26.0" fill="#9c9c9c"/>
<path d="M222.0,672.0 L280.0,672.0 L280.0,692.0 L226.0,692.0 Z" fill="#b3b3b3"/>
<rect x="220.0" y="709.0" width="40.0" height="28.0" fill="#909090"/>
<rect x="202.0" y="736.0" width="55.0" height="24.0" rx="1.5" fill="#8e8e8e"/>
<rect x="207.5" y="738.7" width="42.5" height="12.5" fill="#686868"/>
<text x="234" y="749.6" font-size="10.5" style="fill:#c9c9c9;font-weight:400" textLength="22">205</text>
<rect x="212.0" y="753.0" width="5.0" height="2.4" fill="#dadada"/>
<rect x="232.0" y="753.0" width="5.0" height="2.4" fill="#dadada"/>
<rect x="242.0" y="753.0" width="5.0" height="2.4" fill="#dadada"/>
<rect x="259.0" y="703.0" width="26.0" height="80.0" fill="#a6a6a6"/>
<rect x="268.0" y="717.0" width="8.0" height="8.0" fill="#c9c9c9" opacity="0.6"/>
<circle cx="274.0" cy="734.0" r="1.5" fill="#dddddd"/>
<rect x="268.0" y="741.0" width="13.0" height="3.0" fill="#c9c9c9"/>
<rect x="268.0" y="747.0" width="13.0" height="3.0" fill="#8e8e8e"/>
<circle cx="192.2" cy="748.4" r="6.3" fill="#b2b2b2"/>
<circle cx="192.2" cy="748.4" r="4.6" fill="#8c8c8c"/>
<circle cx="192.2" cy="748.4" r="2.2" fill="none" stroke="#b9b9b9" stroke-width="1"/>
<path d="M475.0,700.0 L572.0,700.0 L572.0,787.0 L462.0,787.0 Z" fill="#b1b1b1"/>
<rect x="499.0" y="711.0" width="68.0" height="57.0" fill="#9c9c9c"/>
<rect x="499.0" y="711.0" width="68.0" height="10.0" fill="#a8a8a8"/>
<rect x="476.0" y="703.0" width="23.0" height="84.0" fill="#b5b5b5"/>
<path d="M487.0,715.0 Q484.0,720.0 489.0,726.0" fill="none" stroke="#dcdcdc" stroke-width="1.5"/>
<rect x="477.0" y="737.0" width="13.0" height="3.2" fill="#8e8e8e"/>
<rect x="477.0" y="744.0" width="13.0" height="3.2" fill="#8e8e8e"/>
<path d="M484.0,730.0 L487.0,734.5 L481.0,734.5 Z" fill="#e0e0e0"/>
<circle cx="482.0" cy="752.0" r="1.4" fill="#e0e0e0"/>
<path d="M474.0,770.0 Q479.0,767.0 484.0,772.0" fill="none" stroke="#dcdcdc" stroke-width="1.5"/>
<rect x="491.0" y="733.0" width="9.0" height="35.0" fill="#a4a4a4"/>
<ellipse cx="501.0" cy="749.8" rx="5" ry="17" fill="#e4e4e4"/>
<rect x="461.0" y="787.4" width="112.0" height="11.5" fill="#c9c9c9"/>
<rect x="461.0" y="798.5" width="116.0" height="22.0" fill="#acacac"/>
<rect x="567.0" y="690.0" width="10.0" height="130.0" fill="#a2a2a2"/>
<rect x="475.0" y="652.5" width="56.0" height="7.0" rx="3" fill="#e0e0e0"/>
<rect x="475.0" y="658.0" width="56.0" height="6.0" rx="2" fill="#c4c4c4"/>
<rect x="531.0" y="649.0" width="7.0" height="22.0" fill="#8f8f8f"/>
<rect x="517.0" y="665.0" width="14.0" height="8.0" fill="#d4d4d4"/>
<path d="M258.0,565.0 Q214.0,640.0 216.0,730.0 Q222.0,790.0 242.0,818.0" fill="none" stroke="#a0a0a0" stroke-width="1.2" stroke-opacity="0.55"/>
<path d="M296.0,565.0 Q240.0,632.0 232.0,710.0 Q232.0,770.0 252.0,818.0" fill="none" stroke="#a0a0a0" stroke-width="1.2" stroke-opacity="0.55"/>
<path d="M489.0,565.0 Q526.0,630.0 536.0,710.0 Q538.0,770.0 520.0,818.0" fill="none" stroke="#a0a0a0" stroke-width="1.2" stroke-opacity="0.55"/>
<path d="M507.0,565.0 Q552.0,630.0 567.0,710.0 Q570.0,770.0 556.0,818.0" fill="none" stroke="#a0a0a0" stroke-width="1.2" stroke-opacity="0.55"/>
<path d="M286.0,664.0 Q288.0,650.0 312.0,647.0 Q380.0,640.0 455.0,647.0 Q475.0,651.0 475.5,670.0 L475.0,712.0 Q473.0,765.0 450.0,820.0 L306.0,820.0 Q290.0,765.0 286.5,712.0 Z" fill="url(#hub2)"/>
<path d="M361.3,707.2 Q372.6,698.4 381.8,690.0 Q391.0,698.4 402.3,707.2 Q390.0,704.4 381.8,696.5 Q373.6,704.4 361.3,707.2 Z" fill="#8a8a8a"/>
<path d="M361.3,706.0 Q372.6,695.4 381.8,687.0 Q391.0,695.4 402.3,706.0 Q390.0,702.0 381.8,694.2 Q373.6,702.0 361.3,706.0 Z" fill="#cfcfcf"/>
<path d="M371.6,695.6 Q377.7,690.6 381.8,687.8 Q385.9,690.6 392.1,695.6 L381.8,691.6 Z" fill="#f0f0f0"/>
<path d="M361.3,723.7 Q372.6,714.9 381.8,706.5 Q391.0,714.9 402.3,723.7 Q390.0,720.9 381.8,713.0 Q373.6,720.9 361.3,723.7 Z" fill="#8a8a8a"/>
<path d="M361.3,722.5 Q372.6,711.9 381.8,703.5 Q391.0,711.9 402.3,722.5 Q390.0,718.5 381.8,710.7 Q373.6,718.5 361.3,722.5 Z" fill="#cfcfcf"/>
<path d="M371.6,712.1 Q377.7,707.1 381.8,704.3 Q385.9,707.1 392.1,712.1 L381.8,708.1 Z" fill="#f0f0f0"/>
</g></g>
<g transform="translate(387.4,652.6)"><g transform="scale(1.0,1)"><path transform="rotate(0)" d="M0,-19.23 L9.62,-9.62 A13.6,13.6 0 1 1 -9.62,-9.62 Z" fill="#c4232b" stroke="#f9e2dc" stroke-width="2.0" stroke-linejoin="round"/></g><g transform="scale(1.0)"><path d="M-1.4,-7.9 L2.9,-7.9 L2.9,7.9 L-1.3,7.9 L-1.3,-3.2 L-5.0,-1.9 L-5.0,-5.2 Q-2.4,-5.9 -1.4,-7.9 Z" fill="#fff" transform="translate(0.6,0)"/></g></g>
<g transform="translate(186.4,663.8)"><g transform="scale(1.0,1)"><path transform="rotate(90)" d="M0,-19.23 L9.62,-9.62 A13.6,13.6 0 1 1 -9.62,-9.62 Z" fill="#c4232b" stroke="#f9e2dc" stroke-width="2.0" stroke-linejoin="round"/></g><g transform="scale(1.0)"><text x="0" y="8.1" font-size="22.8" stroke="#fff" stroke-width="0.4">2</text></g></g>
<g transform="translate(559.4,659.8)"><g transform="scale(1.0,1)"><path transform="rotate(270)" d="M0,-19.23 L9.62,-9.62 A13.6,13.6 0 1 1 -9.62,-9.62 Z" fill="#c4232b" stroke="#f9e2dc" stroke-width="2.0" stroke-linejoin="round"/></g><g transform="scale(1.0)"><text x="0" y="8.1" font-size="22.8" stroke="#fff" stroke-width="0.4">3</text></g></g>
<g transform="translate(276.0,681.0)"><g transform="scale(1.0,1)"><path transform="rotate(270)" d="M0,-19.23 L9.62,-9.62 A13.6,13.6 0 1 1 -9.62,-9.62 Z" fill="#c4232b" stroke="#f9e2dc" stroke-width="2.0" stroke-linejoin="round"/></g><g transform="scale(1.0)"><text x="0" y="8.1" font-size="22.8" stroke="#fff" stroke-width="0.4">4</text></g></g>
<g transform="translate(277.0,764.4)"><g transform="scale(1.0,1)"><path transform="rotate(0)" d="M0,-19.23 L9.62,-9.62 A13.6,13.6 0 1 1 -9.62,-9.62 Z" fill="#c4232b" stroke="#f9e2dc" stroke-width="2.0" stroke-linejoin="round"/></g><g transform="scale(1.0)"><text x="0" y="8.1" font-size="22.8" stroke="#fff" stroke-width="0.4">5</text></g></g>
<g transform="translate(410.0,751.2)"><g transform="scale(1.0,1)"><path transform="rotate(270)" d="M0,-19.23 L9.62,-9.62 A13.6,13.6 0 1 1 -9.62,-9.62 Z" fill="#c4232b" stroke="#f9e2dc" stroke-width="2.0" stroke-linejoin="round"/></g><g transform="scale(1.0)"><text x="0" y="8.1" font-size="22.8" stroke="#fff" stroke-width="0.4">6</text></g></g>
<g transform="translate(524.8,751.0)"><g transform="scale(1.0,1)"><path transform="rotate(270)" d="M0,-19.23 L9.62,-9.62 A13.6,13.6 0 1 1 -9.62,-9.62 Z" fill="#c4232b" stroke="#f9e2dc" stroke-width="2.0" stroke-linejoin="round"/></g><g transform="scale(1.0)"><text x="0" y="8.1" font-size="22.8" stroke="#fff" stroke-width="0.4">7</text></g></g>
<g transform="translate(164.2,748.0)"><g transform="scale(1.0,1)"><path transform="rotate(90)" d="M0,-19.23 L9.62,-9.62 A13.6,13.6 0 1 1 -9.62,-9.62 Z" fill="#c4232b" stroke="#f9e2dc" stroke-width="2.0" stroke-linejoin="round"/></g><g transform="scale(1.0)"><text x="0" y="8.1" font-size="22.8" stroke="#fff" stroke-width="0.4">8</text></g></g>
<g transform="translate(189.0,789.8)"><g transform="scale(1.0,1)"><path transform="rotate(135)" d="M0,-19.23 L9.62,-9.62 A13.6,13.6 0 1 1 -9.62,-9.62 Z" fill="#c4232b" stroke="#f9e2dc" stroke-width="2.0" stroke-linejoin="round"/></g><g transform="scale(1.0)"><text x="0" y="8.1" font-size="22.8" stroke="#fff" stroke-width="0.4">9</text></g></g>
</svg>
<svg style="left:614px;top:560.3px" width="448.4" height="346" viewBox="614 560.3 448.4 346">
<defs><clipPath id="c3"><rect x="614" y="560.3" width="448.4" height="290.4"/></clipPath></defs><g clip-path="url(#c3)">
<g filter="url(#soft)">
<defs>
<linearGradient id="hu3" gradientUnits="userSpaceOnUse" x1="0" y1="559.0" x2="0" y2="682.4"><stop offset="0" stop-color="#c8c8c8"/><stop offset="0.073" stop-color="#b4b4b4"/><stop offset="0.178" stop-color="#858585"/><stop offset="0.307" stop-color="#6e6e6e"/><stop offset="0.767" stop-color="#666666"/><stop offset="1" stop-color="#6d6d6d"/></linearGradient>
<linearGradient id="ls3" x1="0" y1="0" x2="1" y2="0"><stop offset="0" stop-color="#b6b6b6"/><stop offset="1" stop-color="#a4a4a4"/></linearGradient>
</defs>
<rect x="604.0" y="539.0" width="469.6" height="325.6" fill="#a1a1a1"/>
<rect x="604.0" y="539.0" width="36.3" height="176.1" fill="url(#ls3)"/>
<rect x="639.2" y="539.0" width="99.5" height="176.1" fill="#979797"/>
<rect x="639.2" y="539.0" width="5.4" height="176.1" fill="#a2a2a2"/>
<rect x="718.9" y="539.0" width="19.8" height="149.1" fill="#a5a5a5"/>
<rect x="945.3" y="539.0" width="128.3" height="176.1" fill="#999999"/>
<rect x="945.3" y="539.0" width="20.2" height="176.1" fill="#a8a8a8"/>
<rect x="1040.8" y="539.0" width="32.8" height="176.1" fill="#a2a2a2"/>
<rect x="642.0" y="577.0" width="71.7" height="100.5" rx="6" fill="#8b8b8b"/>
<rect x="642.0" y="582.9" width="4.2" height="86.6" fill="#7e7e7e"/>
<rect x="703.9" y="579.0" width="5.7" height="94.6" fill="#b0b0b0"/>
<rect x="711.1" y="579.0" width="1.5" height="96.6" fill="#7c7c7c"/>
<rect x="648.2" y="580.9" width="53.1" height="80.1" fill="#7f7f7f"/>
<rect x="651.2" y="581.9" width="3.0" height="78.1" fill="#909090"/>
<rect x="657.8" y="581.9" width="3.0" height="78.1" fill="#909090"/>
<rect x="664.5" y="581.9" width="3.0" height="78.1" fill="#909090"/>
<rect x="671.1" y="581.9" width="3.0" height="78.1" fill="#909090"/>
<rect x="677.7" y="581.9" width="3.0" height="78.1" fill="#909090"/>
<rect x="684.4" y="581.9" width="3.0" height="78.1" fill="#909090"/>
<rect x="691.0" y="581.9" width="3.0" height="78.1" fill="#909090"/>
<rect x="697.7" y="581.9" width="3.0" height="78.1" fill="#909090"/>
<rect x="668.0" y="605.6" width="13.4" height="18.9" fill="#b8b8b8" opacity="0.9"/>
<rect x="658.2" y="664.6" width="33.0" height="8.0" rx="4" fill="#a6a6a6"/>
<rect x="972.5" y="577.0" width="64.8" height="100.5" rx="6" fill="#8b8b8b"/>
<rect x="1033.4" y="582.9" width="4.0" height="86.6" fill="#7e7e7e"/>
<rect x="976.0" y="579.0" width="4.6" height="94.6" fill="#b0b0b0"/>
<rect x="973.5" y="579.0" width="1.3" height="96.6" fill="#7c7c7c"/>
<rect x="981.9" y="580.9" width="49.5" height="80.1" fill="#7f7f7f"/>
<rect x="984.5" y="581.9" width="2.8" height="78.1" fill="#909090"/>
<rect x="990.6" y="581.9" width="2.8" height="78.1" fill="#909090"/>
<rect x="996.8" y="581.9" width="2.8" height="78.1" fill="#909090"/>
<rect x="1003.0" y="581.9" width="2.8" height="78.1" fill="#909090"/>
<rect x="1009.1" y="581.9" width="2.8" height="78.1" fill="#909090"/>
<rect x="1015.3" y="581.9" width="2.8" height="78.1" fill="#909090"/>
<rect x="1021.5" y="581.9" width="2.9" height="78.1" fill="#909090"/>
<rect x="1027.9" y="581.9" width="2.9" height="78.1" fill="#909090"/>
<rect x="1000.1" y="605.6" width="12.5" height="18.9" fill="#b8b8b8" opacity="0.9"/>
<rect x="991.0" y="664.6" width="30.7" height="8.0" rx="4" fill="#a6a6a6"/>
<path d="M604.0,714.1 L741.8,709.3 L755.8,775.6 L782.8,781.5 L927.6,781.5 L945.3,770.7 L949.3,709.3 L1073.6,714.1 L1073.6,864.6 L604.0,864.6 Z" fill="#a6a6a6"/>
<path d="M746.0,539.0 L938.2,539.0 L938.2,568.0 L937.2,682.4 L748.1,682.4 L746.0,568.0 Z" fill="url(#hu3)"/>
<rect x="788.8" y="575.5" width="106.2" height="2.2" fill="#8f8f8f"/>
<rect x="765.7" y="573.0" width="12.1" height="5.0" rx="1" fill="#9d9d9d"/>
<rect x="770.1" y="574.2" width="3.9" height="2.6" fill="#d8d8d8"/>
<rect x="790.8" y="584.9" width="105.1" height="68.7" rx="4" fill="#626262"/>
<rect x="792.8" y="586.9" width="101.2" height="64.2" rx="3" fill="#a3a3a3"/>
<rect x="769.0" y="598.9" width="16.8" height="12.9" rx="1.5" fill="#8c8c8c"/>
<rect x="773.4" y="600.9" width="8.4" height="8.0" fill="#b5b5b5" opacity=".7"/>
<rect x="771.2" y="584.9" width="12.6" height="10.0" rx="2" fill="#888888"/>
<circle cx="776.7" cy="588.9" r="2.4" fill="#c4c4c4"/>
<rect x="904.6" y="598.9" width="15.4" height="12.9" rx="1.5" fill="#8c8c8c"/>
<rect x="908.4" y="600.9" width="7.7" height="8.0" fill="#b5b5b5" opacity=".7"/>
<circle cx="910.3" cy="589.9" r="3.2" fill="none" stroke="#b8b8b8" stroke-width="1.6"/>
<circle cx="771.6" cy="630.2" r="14" fill="#d0d0d0"/>
<circle cx="771.6" cy="630.2" r="11.2" fill="#8a8a8a"/>
<circle cx="771.6" cy="630.2" r="7.5" fill="none" stroke="#b9b9b9" stroke-width="1.6"/>
<circle cx="771.6" cy="630.2" r="2.6" fill="#b0b0b0"/>
<circle cx="914.9" cy="630.2" r="14" fill="#d0d0d0"/>
<circle cx="914.9" cy="630.2" r="11.2" fill="#8a8a8a"/>
<circle cx="914.9" cy="630.2" r="7.5" fill="none" stroke="#b9b9b9" stroke-width="1.6"/>
<circle cx="914.9" cy="630.2" r="2.6" fill="#b0b0b0"/>
<path d="M751.4,620.8 L759.1,620.3 M758.0,624.7 Q761.3,614.8 765.7,611.8" fill="none" stroke="#c0c0c0" stroke-width="1.1"/>
<path d="M921.9,611.8 Q929.6,616.8 932.4,624.7 M929.6,615.8 L936.3,617.8" fill="none" stroke="#c0c0c0" stroke-width="1.1"/>
<path d="M786.8,660.6 L900.7,660.6 Q900.7,672.5 893.0,672.5 L794.8,672.5 Q787.8,672.5 786.8,660.6 Z" fill="#868686"/>
<rect x="788.8" y="662.1" width="20.9" height="9.0" rx="2" fill="#9b9b9b"/>
<rect x="793.8" y="664.6" width="10.6" height="2.2" fill="#c2c2c2"/>
<rect x="790.8" y="669.3" width="17.0" height="1.6" fill="#b2b2b2"/>
<rect x="811.5" y="662.1" width="20.3" height="9.0" rx="2" fill="#9b9b9b"/>
<rect x="816.3" y="664.6" width="10.4" height="2.2" fill="#c2c2c2"/>
<rect x="813.4" y="669.3" width="16.5" height="1.6" fill="#b2b2b2"/>
<rect x="855.5" y="662.1" width="21.2" height="9.0" rx="2" fill="#9b9b9b"/>
<rect x="860.5" y="664.6" width="10.9" height="2.2" fill="#c2c2c2"/>
<rect x="857.5" y="669.3" width="17.3" height="1.6" fill="#b2b2b2"/>
<rect x="878.2" y="662.1" width="21.1" height="9.0" rx="2" fill="#9b9b9b"/>
<rect x="883.1" y="664.6" width="10.9" height="2.2" fill="#c2c2c2"/>
<rect x="880.2" y="669.3" width="17.2" height="1.6" fill="#b2b2b2"/>
<rect x="748.1" y="681.4" width="189.1" height="5.3" fill="#9b9b9b"/>
<rect x="748.1" y="686.2" width="189.1" height="2.5" fill="#bbbbbb"/>
<path d="M748.1,688.6 L937.2,688.6 L935.7,729.6 L931.5,757.9 Q929.1,771.6 914.2,771.6 L782.8,771.6 Q764.0,771.6 761.1,757.9 L754.7,729.6 Z" fill="#8c8c8c"/>
<path d="M749.2,688.6 L935.3,688.6 L935.3,693.9 L749.2,693.9 Z" fill="#969696"/>
<path d="M736.6,539.0 L736.6,568.0 L736.9,673.5 L741.5,729.6 L748.3,757.9 Q752.5,782.2 776.7,782.2 L918.0,782.2 Q937.2,782.2 941.4,757.9 L945.9,729.6 L948.1,673.5 L947.3,568.0 L947.3,539.0 L937.7,539.0 L937.7,568.0 L937.8,673.5 L935.7,729.6 L931.5,757.9 Q929.1,770.9 914.2,770.9 L782.8,770.9 Q764.0,770.9 761.1,757.9 L754.7,729.6 L748.3,673.5 L746.5,568.0 L746.5,539.0 Z" fill="#c4c4c4"/>
<path d="M748.3,757.9 Q752.5,782.2 776.7,782.2 L918.0,782.2 Q937.2,782.2 941.4,757.9 L947.3,765.8 Q942.2,791.3 918.0,791.3 L776.7,791.3 Q746.0,791.3 739.7,763.8 Z" fill="#8f8f8f"/>
<circle cx="808.4" cy="737.2" r="36.5" fill="#a5a5a5"/>
<circle cx="808.4" cy="737.2" r="36.5" fill="none" stroke="#b2b2b2" stroke-width="1.2"/>
<circle cx="808.4" cy="737.2" r="24" fill="#c6c6c6"/>
<circle cx="808.4" cy="737.2" r="21" fill="#848484"/>
<circle cx="808.4" cy="737.2" r="17.5" fill="#bcbcbc"/>
<g transform="rotate(-38 808.4 737.2)"><rect x="801.4" y="716.2" width="14" height="42" rx="5" fill="#b8b8b8"/><rect x="806.4" y="749.2" width="4" height="9" rx="1.5" fill="#e8e8e8"/></g>
<circle cx="889.2" cy="736.5" r="36.5" fill="#a5a5a5"/>
<circle cx="889.2" cy="736.5" r="36.5" fill="none" stroke="#b2b2b2" stroke-width="1.2"/>
<circle cx="889.2" cy="736.5" r="24" fill="#c6c6c6"/>
<circle cx="889.2" cy="736.5" r="21" fill="#848484"/>
<circle cx="889.2" cy="736.5" r="17.5" fill="#bcbcbc"/>
<g transform="rotate(38 889.2 736.5)"><rect x="882.2" y="715.5" width="14" height="42" rx="5" fill="#b8b8b8"/><rect x="887.2" y="748.5" width="4" height="9" rx="1.5" fill="#e8e8e8"/></g>
<path d="M836.5,694.9 L859.5,694.9 L857.0,713.2 L839.3,713.2 Z" fill="#adadad"/>
<rect x="837.4" y="694.9" width="21.1" height="3.9" fill="#c0c0c0"/>
<rect x="845.9" y="705.0" width="2.8" height="2.9" fill="#dcdcdc"/>
<circle cx="780.8" cy="727.3" r="1.8" fill="#cfcfcf"/>
<circle cx="784.4" cy="720.6" r="1.8" fill="#cfcfcf"/>
<circle cx="783.0" cy="751.9" r="1.8" fill="#cfcfcf"/>
<circle cx="791.8" cy="761.3" r="1.8" fill="#cfcfcf"/>
<circle cx="803.5" cy="766.2" r="1.8" fill="#cfcfcf"/>
<circle cx="815.8" cy="765.6" r="1.8" fill="#cfcfcf"/>
<circle cx="889.2" cy="707.6" r="1.8" fill="#cfcfcf"/>
<circle cx="872.2" cy="712.8" r="1.8" fill="#cfcfcf"/>
<circle cx="905.8" cy="712.8" r="1.8" fill="#cfcfcf"/>
<circle cx="916.4" cy="726.6" r="1.8" fill="#cfcfcf"/>
<circle cx="916.4" cy="746.6" r="1.8" fill="#cfcfcf"/>
<circle cx="861.4" cy="746.6" r="1.8" fill="#cfcfcf"/>
<circle cx="861.4" cy="726.6" r="1.8" fill="#cfcfcf"/>
<circle cx="905.8" cy="760.6" r="1.8" fill="#cfcfcf"/>
<path d="M769.0,815.0 L930.5,815.0 L930.5,835.8 L784.8,835.8 Q772.3,835.8 769.0,821.9 Z" fill="#979797"/>
<rect x="769.0" y="815.0" width="161.5" height="2.0" fill="#a6a6a6"/>
<rect x="787.3" y="816.0" width="20.5" height="19.8" fill="#919191"/>
<rect x="809.2" y="816.0" width="19.8" height="19.8" fill="#919191"/>
<rect x="830.9" y="815.0" width="36.0" height="21.3" fill="#b7b7b7"/>
<path d="M848.4,820.4 L855.0,832.3 L842.1,832.3 Z" fill="none" stroke="#d9d9d9" stroke-width="1.6"/>
<rect x="868.8" y="816.0" width="19.7" height="19.8" fill="#919191"/>
<rect x="890.5" y="816.0" width="19.3" height="19.8" fill="#919191"/>
<rect x="911.8" y="816.0" width="18.7" height="19.8" rx="2" fill="#919191"/>
<rect x="794.3" y="818.4" width="6.8" height="1.6" fill="#bdbdbd"/>
<rect x="794.8" y="824.9" width="5.8" height="4.9" fill="#cdcdcd" opacity=".8"/>
<rect x="815.8" y="818.4" width="6.6" height="1.6" fill="#bdbdbd"/>
<rect x="816.3" y="824.9" width="5.7" height="4.9" fill="#cdcdcd" opacity=".8"/>
<rect x="875.3" y="818.4" width="6.9" height="1.6" fill="#bdbdbd"/>
<rect x="875.7" y="824.9" width="5.9" height="4.9" fill="#cdcdcd" opacity=".8"/>
<rect x="896.9" y="818.4" width="6.7" height="1.6" fill="#bdbdbd"/>
<rect x="897.4" y="824.9" width="5.8" height="4.9" fill="#cdcdcd" opacity=".8"/>
<rect x="917.5" y="818.4" width="6.7" height="1.6" fill="#bdbdbd"/>
<rect x="918.0" y="824.9" width="5.8" height="4.9" fill="#cdcdcd" opacity=".8"/>
<rect x="769.0" y="835.8" width="161.5" height="4.0" fill="#888888"/>
<defs><linearGradient id="bowl3" x1="0" y1="0" x2="0" y2="1"><stop offset="0" stop-color="#a6a6a6"/><stop offset="0.6" stop-color="#8c8c8c"/><stop offset="1" stop-color="#848484"/></linearGradient></defs>
<path d="M949.3,709.3 L1073.6,714.1 L1073.6,719.0 L949.3,715.1 Z" fill="#b0b0b0"/>
<path d="M1048.7,717.0 L1073.6,717.0 L1073.6,864.6 L1004.7,864.6 L1014.3,846.6 Q1043.8,824.9 1053.7,775.6 Z" fill="#a2a2a2"/>
<path d="M1036.8,807.6 L1073.6,803.1 L1073.6,809.0 L1034.9,813.5 Z" fill="#c4c4c4"/>
<path d="M1033.9,815.0 L1073.6,810.0 L1073.6,864.6 L1006.6,864.6 Q1027.9,842.7 1033.9,815.0 Z" fill="#8e8e8e"/>
<path d="M957.4,717.0 Q957.4,708.4 967.4,708.4 L1045.8,710.3 Q1056.7,711.3 1056.7,722.8 L1054.7,765.8 Q1049.7,810.0 1022.0,832.8 Q995.1,848.6 957.4,844.7 Q943.2,840.7 947.3,826.9 Q955.3,805.1 955.3,775.6 Z" fill="#a7a7a7"/>
<path d="M962.4,722.8 Q962.4,714.1 971.5,714.1 L1041.8,715.1 Q1051.2,716.1 1051.2,725.7 L1048.7,771.6 Q1044.8,801.1 1025.9,815.0 L953.3,815.0 Q959.4,795.2 960.4,771.6 Z" fill="#858585"/>
<path d="M946.3,834.8 Q949.3,842.7 963.4,842.7 Q991.3,844.7 1014.3,832.8 Q1035.9,818.9 1043.8,793.2 L1037.8,791.3 Q1029.9,815.0 1011.4,826.9 Q989.3,837.7 963.4,835.8 Q951.3,834.8 950.3,826.9 Z" fill="#6e6e6e"/>
<path d="M953.3,813.0 L1025.9,813.0 Q1018.1,824.9 1004.7,831.8 Q985.5,838.7 963.4,836.8 Q949.3,834.8 950.8,824.9 Z" fill="#a3a3a3"/>
<path d="M970.5,730.5 Q970.5,725.7 976.9,725.7 L1027.9,725.7 Q1034.9,725.7 1033.9,732.4 L1030.9,755.9 Q1025.0,784.4 999.9,785.4 Q977.7,785.4 972.5,757.9 Z" fill="url(#bowl3)"/>
<ellipse cx="996.5" cy="772.6" rx="22.5" ry="12.5" fill="#b0b0b0"/>
<ellipse cx="996.3" cy="775.1" rx="20.5" ry="10.5" fill="#868686"/>
<path d="M1002.8,763.8 L1022.0,750.0 L1029.9,755.9 L1021.0,775.6 L1012.3,779.5 Z" fill="#b0b0b0"/>
<path d="M969.0,732.4 Q968.5,724.7 977.7,724.7 L1026.9,724.7 Q1036.8,724.7 1035.9,733.4 L1032.9,757.9 Q1025.9,787.3 999.9,787.8 Q976.9,787.8 971.0,759.9 Z" fill="none" stroke="#b9b9b9" stroke-width="3.6"/>
<path d="M1035.9,734.4 L1032.9,757.9 Q1028.9,773.6 1019.0,781.5" fill="none" stroke="#c2c2c2" stroke-width="5"/>
<rect x="963.4" y="808.1" width="14.3" height="26.7" rx="5" fill="#bdbdbd"/>
<rect x="980.2" y="813.0" width="12.0" height="21.8" rx="5" fill="#b0b0b0"/>
<rect x="992.2" y="811.0" width="16.3" height="22.8" rx="5" fill="#bababa"/>
<rect x="1010.4" y="814.0" width="10.6" height="16.8" rx="4" fill="#adadad"/>
<rect x="964.9" y="819.4" width="9.8" height="3.0" fill="#e0e0e0"/>
<rect x="993.2" y="816.5" width="11.5" height="2.6" fill="#e0e0e0"/>
<defs><radialGradient id="boot3" cx="0.5" cy="0.5" r="0.5"><stop offset="0" stop-color="#a4a4a4"/><stop offset="0.6" stop-color="#969696"/><stop offset="1" stop-color="#8e8e8e" stop-opacity="0"/></radialGradient></defs>
<path d="M614,712 L736,708 L736,712 L614,717 Z" fill="#b0b0b0"/>
<path d="M614,717 L736,712 L742,780 L760,790 L780,851 L614,851 Z" fill="#a2a2a2"/>
<path d="M614,717 L640,716 L640,851 L614,851 Z" fill="#a7a7a7"/>
<path d="M668,716 L716,713 Q723,713 723,722 L724,800 Q730,830 752,851 L650,851 Q640,832 644,808 Q656,780 660,745 Q660,720 668,716 Z" fill="#8e8e8e"/>
<path d="M735,714 L742,713 L746,790 Q750,822 772,851 L752,851 Q730,830 724,800 L723,722 Z" fill="#999999"/>
<path d="M735,714 L742,713 L746,790 L739,790 Z" fill="#8d8d8d"/>
<ellipse cx="697" cy="758" rx="24" ry="42" fill="url(#boot3)"/>
<path d="M642,812 Q700,800 752,812 Q770,830 776,851 L656,851 Q642,832 642,812 Z" fill="#878787"/>
<path d="M642,812 Q642,832 656,851 L648,851 Q634,832 636,814 Z" fill="#b2b2b2"/>
<rect x="614" y="717" width="12" height="60" fill="#9a9a9a"/>
<path d="M614,792 L630,790 L630,800 L614,803 Z" fill="#b4b4b4"/>
<circle cx="666.5" cy="790" r="14.6" fill="#dedede"/><circle cx="663" cy="790" r="14.4" fill="#a2a2a2"/>
<circle cx="641.6" cy="787.4" r="23.5" fill="#bababa"/><circle cx="641.6" cy="787.4" r="22.6" fill="none" stroke="#acacac" stroke-width="1.8"/>
<circle cx="639.6" cy="786.6" r="17" fill="#6b6b6b"/>
<path d="M632,779 L632,787 L639.5,787 M639.5,778 L639.5,797 M647,778 L647,797 M639.5,787 L647,787 M632.5,797 L632.5,794" stroke="#d2d2d2" stroke-width="1.5" fill="none"/>
<path d="M776,851 L768,836 Q860,832 960,838 L1010,851 Z" fill="#929292"/>
</g>
<g transform="translate(848.4,678.5)"><g transform="scale(1.0,1)"><path transform="rotate(0)" d="M0,-19.23 L9.62,-9.62 A13.6,13.6 0 1 1 -9.62,-9.62 Z" fill="#c4232b" stroke="#f9e2dc" stroke-width="2.0" stroke-linejoin="round"/></g><g transform="scale(1.0)"><path d="M-1.4,-7.9 L2.9,-7.9 L2.9,7.9 L-1.3,7.9 L-1.3,-3.2 L-5.0,-1.9 L-5.0,-5.2 Q-2.4,-5.9 -1.4,-7.9 Z" fill="#fff" transform="translate(0.6,0)"/></g></g>
<g transform="translate(848.2,755.9)"><g transform="scale(1.0,1)"><path transform="rotate(0)" d="M0,-19.23 L9.62,-9.62 A13.6,13.6 0 1 1 -9.62,-9.62 Z" fill="#c4232b" stroke="#f9e2dc" stroke-width="2.0" stroke-linejoin="round"/></g><g transform="scale(1.0)"><text x="0" y="8.1" font-size="22.8" stroke="#fff" stroke-width="0.4">2</text></g></g>
<g transform="translate(1040.8,725.2)"><g transform="scale(1.0,1)"><path transform="rotate(225)" d="M0,-19.23 L9.62,-9.62 A13.6,13.6 0 1 1 -9.62,-9.62 Z" fill="#c4232b" stroke="#f9e2dc" stroke-width="2.0" stroke-linejoin="round"/></g><g transform="scale(1.0)"><text x="0" y="8.1" font-size="22.8" stroke="#fff" stroke-width="0.4">3</text></g></g>
<g transform="translate(1019.5,800.2)"><g transform="scale(1.0,1)"><path transform="rotate(225)" d="M0,-18.81 L9.40,-9.41 A13.3,13.3 0 1 1 -9.40,-9.41 Z" fill="#c4232b" stroke="#f9e2dc" stroke-width="2.0" stroke-linejoin="round"/></g><g transform="scale(0.97)"><text x="0" y="8.1" font-size="22.8" stroke="#fff" stroke-width="0.4">4</text></g></g>
<g transform="translate(983.2,799.5)"><g transform="scale(1.0,1)"><path transform="rotate(225)" d="M0,-18.81 L9.40,-9.41 A13.3,13.3 0 1 1 -9.40,-9.41 Z" fill="#c4232b" stroke="#f9e2dc" stroke-width="2.0" stroke-linejoin="round"/></g><g transform="scale(0.97)"><text x="0" y="8.1" font-size="22.8" stroke="#fff" stroke-width="0.4">5</text></g></g>
<g transform="translate(895.4,793.6)"><g transform="scale(1.0,1)"><path transform="rotate(180)" d="M0,-20.70 L10.14,-8.29 A13.1,13.1 0 1 1 -10.14,-8.29 Z" fill="#c4232b" stroke="#f9e2dc" stroke-width="2.0" stroke-linejoin="round"/></g><g transform="scale(0.97)"><text x="0" y="8.1" font-size="22.8" stroke="#fff" stroke-width="0.4">7</text></g></g>
<g transform="translate(872.1,793.6)"><g transform="scale(1.0,1)"><path transform="rotate(180)" d="M0,-20.70 L10.14,-8.29 A13.1,13.1 0 1 1 -10.14,-8.29 Z" fill="#c4232b" stroke="#f9e2dc" stroke-width="2.0" stroke-linejoin="round"/></g><g transform="scale(0.97)"><text x="0" y="8.1" font-size="22.8" stroke="#fff" stroke-width="0.4">8</text></g></g>
<g transform="translate(848.2,793.6)"><g transform="scale(1.0,1)"><path transform="rotate(180)" d="M0,-20.70 L10.14,-8.29 A13.1,13.1 0 1 1 -10.14,-8.29 Z" fill="#c4232b" stroke="#f9e2dc" stroke-width="2.0" stroke-linejoin="round"/></g><g transform="scale(0.97)"><text x="0" y="8.1" font-size="22.8" stroke="#fff" stroke-width="0.4">9</text></g></g>
<g transform="translate(820.7,793.6)"><g transform="scale(1.0,1)"><path transform="rotate(180)" d="M0,-20.70 L10.14,-8.29 A13.1,13.1 0 1 1 -10.14,-8.29 Z" fill="#c4232b" stroke="#f9e2dc" stroke-width="2.0" stroke-linejoin="round"/></g><g transform="scale(0.97)"><path d="M-1.4,-7.9 L2.9,-7.9 L2.9,7.9 L-1.3,7.9 L-1.3,-3.2 L-5.0,-1.9 L-5.0,-5.2 Q-2.4,-5.9 -1.4,-7.9 Z" fill="#fff" transform="translate(-5.2,0)"/><text x="4.4" y="7.9" font-size="22.2" textLength="11.6" lengthAdjust="spacingAndGlyphs" stroke="#fff" stroke-width="0.4">0</text></g></g>
<g transform="translate(794.6,793.6)"><g transform="scale(1.0,1)"><path transform="rotate(180)" d="M0,-20.70 L10.14,-8.29 A13.1,13.1 0 1 1 -10.14,-8.29 Z" fill="#c4232b" stroke="#f9e2dc" stroke-width="2.0" stroke-linejoin="round"/></g><g transform="scale(0.97)"><path d="M-1.4,-7.9 L2.9,-7.9 L2.9,7.9 L-1.3,7.9 L-1.3,-3.2 L-5.0,-1.9 L-5.0,-5.2 Q-2.4,-5.9 -1.4,-7.9 Z" fill="#fff" transform="translate(-4.0,0)"/><path d="M-1.4,-7.9 L2.9,-7.9 L2.9,7.9 L-1.3,7.9 L-1.3,-3.2 L-5.0,-1.9 L-5.0,-5.2 Q-2.4,-5.9 -1.4,-7.9 Z" fill="#fff" transform="translate(5.4,0)"/></g></g>
<g transform="translate(652.9,746.5)"><g transform="scale(1.0,1)"><path transform="rotate(180)" d="M0,-19.04 L9.51,-10.00 A13.8,13.8 0 1 1 -9.51,-10.00 Z" fill="#c4232b" stroke="#f9e2dc" stroke-width="2.0" stroke-linejoin="round"/></g><g transform="scale(1.0)"><path d="M-1.4,-7.9 L2.9,-7.9 L2.9,7.9 L-1.3,7.9 L-1.3,-3.2 L-5.0,-1.9 L-5.0,-5.2 Q-2.4,-5.9 -1.4,-7.9 Z" fill="#fff" transform="translate(-5.2,0)"/><text x="4.4" y="7.9" font-size="22.2" textLength="11.6" lengthAdjust="spacingAndGlyphs" stroke="#fff" stroke-width="0.4">2</text></g></g>
</g>
<rect x="849.1" y="861.4" width="58.8" height="42.8" fill="#9e9e9e"/><rect x="916.6" y="861.4" width="59.4" height="42.8" fill="#9e9e9e"/>
<path d="M853.5,864.5 L902,864.5 L902,880 Q900,894.5 886,894.5 L853.5,894.5 Z" fill="#a9a9a9"/><rect x="876" y="864.5" width="1.5" height="30" fill="#9e9e9e"/>
<path d="M920,864.5 L970,864.5 L970,880 Q968,894.5 954,894.5 L920,894.5 Z" fill="#a9a9a9"/><rect x="944" y="864.5" width="1.5" height="30" fill="#9e9e9e"/>
<rect x="884.5" y="870" width="10" height="2.4" fill="#d0d0d0"/><rect x="884.5" y="880" width="10" height="3.4" fill="#c8c8c8"/>
<rect x="927" y="870" width="10" height="2.4" fill="#d0d0d0"/><rect x="952.5" y="870" width="10" height="2.4" fill="#d0d0d0"/>
<ellipse cx="932.5" cy="884" rx="5" ry="3.5" fill="none" stroke="#d4d4d4" stroke-width="1.4" transform="rotate(-25 932.5 884)"/><ellipse cx="957.5" cy="882.5" rx="6" ry="3" fill="none" stroke="#d4d4d4" stroke-width="1.4" transform="rotate(15 957.5 882.5)"/>
<path d="M912.3,862 L912.3,904" stroke="#8e8e8e" stroke-width="2" stroke-dasharray="7.5,3.2"/>
<g transform="translate(913.8,848.1)"><g transform="scale(1.0,1)"><path transform="rotate(0)" d="M0,-19.23 L9.62,-9.62 A13.6,13.6 0 1 1 -9.62,-9.62 Z" fill="#c4232b" stroke="#f9e2dc" stroke-width="2.0" stroke-linejoin="round"/></g><g transform="scale(1.0)"><text x="0" y="8.1" font-size="22.8" stroke="#fff" stroke-width="0.4">6</text></g></g>
</svg>
<svg style="left:1100px;top:89px" width="449" height="287.3" viewBox="1100 89 449 287.3">
<g filter="url(#soft)">
<defs>
<linearGradient id="hu4" gradientUnits="userSpaceOnUse" x1="0" y1="80.0" x2="0" y2="204.0"><stop offset="0" stop-color="#c8c8c8"/><stop offset="0.073" stop-color="#b4b4b4"/><stop offset="0.177" stop-color="#858585"/><stop offset="0.306" stop-color="#6e6e6e"/><stop offset="0.766" stop-color="#666666"/><stop offset="1" stop-color="#6d6d6d"/></linearGradient>
<linearGradient id="ls4" x1="0" y1="0" x2="1" y2="0"><stop offset="0" stop-color="#b6b6b6"/><stop offset="1" stop-color="#a4a4a4"/></linearGradient>
</defs>
<rect x="1090.0" y="60.0" width="470.0" height="330.0" fill="#a1a1a1"/>
<rect x="1090.0" y="60.0" width="34.0" height="178.0" fill="url(#ls4)"/>
<rect x="1123.0" y="60.0" width="96.0" height="178.0" fill="#979797"/>
<rect x="1123.0" y="60.0" width="5.0" height="178.0" fill="#a2a2a2"/>
<rect x="1200.0" y="60.0" width="19.0" height="150.0" fill="#a5a5a5"/>
<rect x="1428.0" y="60.0" width="132.0" height="178.0" fill="#999999"/>
<rect x="1428.0" y="60.0" width="20.0" height="178.0" fill="#a8a8a8"/>
<rect x="1527.0" y="60.0" width="33.0" height="178.0" fill="#a2a2a2"/>
<rect x="1125.5" y="98.0" width="69.5" height="101.0" rx="6" fill="#8b8b8b"/>
<rect x="1125.5" y="104.0" width="4.0" height="87.0" fill="#7e7e7e"/>
<rect x="1185.5" y="100.0" width="5.5" height="95.0" fill="#b0b0b0"/>
<rect x="1192.5" y="100.0" width="1.5" height="97.0" fill="#7c7c7c"/>
<rect x="1131.5" y="102.0" width="51.5" height="80.5" fill="#7f7f7f"/>
<rect x="1134.4" y="103.0" width="2.9" height="78.5" fill="#909090"/>
<rect x="1140.8" y="103.0" width="2.9" height="78.5" fill="#909090"/>
<rect x="1147.3" y="103.0" width="2.9" height="78.5" fill="#909090"/>
<rect x="1153.7" y="103.0" width="2.9" height="78.5" fill="#909090"/>
<rect x="1160.1" y="103.0" width="2.9" height="78.5" fill="#909090"/>
<rect x="1166.6" y="103.0" width="2.9" height="78.5" fill="#909090"/>
<rect x="1173.0" y="103.0" width="2.9" height="78.5" fill="#909090"/>
<rect x="1179.5" y="103.0" width="2.9" height="78.5" fill="#909090"/>
<rect x="1150.8" y="126.8" width="13.0" height="19.0" fill="#b8b8b8" opacity="0.9"/>
<rect x="1141.2" y="186.0" width="32.0" height="8.0" rx="4" fill="#a6a6a6"/>
<rect x="1455.0" y="98.0" width="68.5" height="101.0" rx="6" fill="#8b8b8b"/>
<rect x="1519.5" y="104.0" width="4.0" height="87.0" fill="#7e7e7e"/>
<rect x="1459.0" y="100.0" width="5.5" height="95.0" fill="#b0b0b0"/>
<rect x="1456.0" y="100.0" width="1.5" height="97.0" fill="#7c7c7c"/>
<rect x="1466.0" y="102.0" width="51.5" height="80.5" fill="#7f7f7f"/>
<rect x="1468.9" y="103.0" width="2.9" height="78.5" fill="#909090"/>
<rect x="1475.3" y="103.0" width="2.9" height="78.5" fill="#909090"/>
<rect x="1481.8" y="103.0" width="2.9" height="78.5" fill="#909090"/>
<rect x="1488.2" y="103.0" width="2.9" height="78.5" fill="#909090"/>
<rect x="1494.6" y="103.0" width="2.9" height="78.5" fill="#909090"/>
<rect x="1501.1" y="103.0" width="2.9" height="78.5" fill="#909090"/>
<rect x="1507.5" y="103.0" width="2.9" height="78.5" fill="#909090"/>
<rect x="1514.0" y="103.0" width="2.9" height="78.5" fill="#909090"/>
<rect x="1485.2" y="126.8" width="13.0" height="19.0" fill="#b8b8b8" opacity="0.9"/>
<rect x="1475.8" y="186.0" width="32.0" height="8.0" rx="4" fill="#a6a6a6"/>
<path d="M1090.0,237.0 L1222.0,232.0 L1235.0,300.0 L1260.0,306.0 L1410.0,306.0 L1428.0,295.0 L1432.0,232.0 L1560.0,237.0 L1560.0,390.0 L1090.0,390.0 Z" fill="#a6a6a6"/>
<path d="M1226.0,60.0 L1421.0,60.0 L1421.0,89.0 L1420.0,204.0 L1228.0,204.0 L1226.0,89.0 Z" fill="url(#hu4)"/>
<rect x="1266.0" y="96.5" width="110.0" height="2.2" fill="#8f8f8f"/>
<rect x="1244.0" y="94.0" width="11.0" height="5.0" rx="1" fill="#9d9d9d"/>
<rect x="1248.0" y="95.2" width="3.5" height="2.6" fill="#d8d8d8"/>
<rect x="1268.0" y="106.0" width="109.0" height="69.0" rx="4" fill="#626262"/>
<rect x="1270.0" y="108.0" width="105.0" height="64.5" rx="3" fill="#a3a3a3"/>
<rect x="1247.0" y="120.0" width="16.0" height="13.0" rx="1.5" fill="#8c8c8c"/>
<rect x="1251.0" y="122.0" width="8.0" height="8.0" fill="#b5b5b5" opacity=".7"/>
<rect x="1249.0" y="106.0" width="12.0" height="10.0" rx="2" fill="#888888"/>
<circle cx="1254.0" cy="110.0" r="2.4" fill="#c4c4c4"/>
<rect x="1386.0" y="120.0" width="16.0" height="13.0" rx="1.5" fill="#8c8c8c"/>
<rect x="1390.0" y="122.0" width="8.0" height="8.0" fill="#b5b5b5" opacity=".7"/>
<circle cx="1392.0" cy="111.0" r="3.2" fill="none" stroke="#b8b8b8" stroke-width="1.6"/>
<circle cx="1249.4" cy="151.5" r="14" fill="#d0d0d0"/>
<circle cx="1249.4" cy="151.5" r="11.2" fill="#8a8a8a"/>
<circle cx="1249.4" cy="151.5" r="7.5" fill="none" stroke="#b9b9b9" stroke-width="1.6"/>
<circle cx="1249.4" cy="151.5" r="2.6" fill="#b0b0b0"/>
<circle cx="1396.7" cy="151.5" r="14" fill="#d0d0d0"/>
<circle cx="1396.7" cy="151.5" r="11.2" fill="#8a8a8a"/>
<circle cx="1396.7" cy="151.5" r="7.5" fill="none" stroke="#b9b9b9" stroke-width="1.6"/>
<circle cx="1396.7" cy="151.5" r="2.6" fill="#b0b0b0"/>
<path d="M1231.0,142.0 L1238.0,141.5 M1237.0,146.0 Q1240.0,136.0 1244.0,133.0" fill="none" stroke="#c0c0c0" stroke-width="1.1"/>
<path d="M1404.0,133.0 Q1412.0,138.0 1415.0,146.0 M1412.0,137.0 L1419.0,139.0" fill="none" stroke="#c0c0c0" stroke-width="1.1"/>
<path d="M1264.0,182.0 L1382.0,182.0 Q1382.0,194.0 1374.0,194.0 L1272.0,194.0 Q1265.0,194.0 1264.0,182.0 Z" fill="#868686"/>
<rect x="1266.0" y="183.5" width="21.5" height="9.0" rx="2" fill="#9b9b9b"/>
<rect x="1271.0" y="186.0" width="11.0" height="2.2" fill="#c2c2c2"/>
<rect x="1268.0" y="190.8" width="17.5" height="1.6" fill="#b2b2b2"/>
<rect x="1289.5" y="183.5" width="21.5" height="9.0" rx="2" fill="#9b9b9b"/>
<rect x="1294.5" y="186.0" width="11.0" height="2.2" fill="#c2c2c2"/>
<rect x="1291.5" y="190.8" width="17.5" height="1.6" fill="#b2b2b2"/>
<rect x="1336.0" y="183.5" width="21.5" height="9.0" rx="2" fill="#9b9b9b"/>
<rect x="1341.0" y="186.0" width="11.0" height="2.2" fill="#c2c2c2"/>
<rect x="1338.0" y="190.8" width="17.5" height="1.6" fill="#b2b2b2"/>
<rect x="1359.0" y="183.5" width="21.5" height="9.0" rx="2" fill="#9b9b9b"/>
<rect x="1364.0" y="186.0" width="11.0" height="2.2" fill="#c2c2c2"/>
<rect x="1361.0" y="190.8" width="17.5" height="1.6" fill="#b2b2b2"/>
<rect x="1228.0" y="203.0" width="192.0" height="5.5" fill="#9b9b9b"/>
<rect x="1228.0" y="208.0" width="192.0" height="2.6" fill="#bbbbbb"/>
<path d="M1228.0,210.5 L1420.0,210.5 L1418.4,253.0 L1414.0,282.0 Q1411.5,296.0 1396.0,296.0 L1260.0,296.0 Q1242.5,296.0 1239.8,282.0 L1234.0,253.0 Z" fill="#8c8c8c"/>
<path d="M1229.0,210.5 L1418.0,210.5 L1418.0,216.0 L1229.0,216.0 Z" fill="#969696"/>
<path d="M1217.0,60.0 L1217.0,89.0 L1217.3,195.0 L1221.7,253.0 L1228.2,282.0 Q1232.0,306.8 1254.0,306.8 L1400.0,306.8 Q1420.0,306.8 1424.2,282.0 L1428.6,253.0 L1430.8,195.0 L1430.0,89.0 L1430.0,60.0 L1420.5,60.0 L1420.5,89.0 L1420.6,195.0 L1418.4,253.0 L1414.0,282.0 Q1411.5,295.2 1396.0,295.2 L1260.0,295.2 Q1242.5,295.2 1239.8,282.0 L1234.0,253.0 L1228.2,195.0 L1226.5,89.0 L1226.5,60.0 Z" fill="#c4c4c4"/>
<path d="M1228.2,282.0 Q1232.0,306.8 1254.0,306.8 L1400.0,306.8 Q1420.0,306.8 1424.2,282.0 L1430.0,290.0 Q1425.0,316.0 1400.0,316.0 L1254.0,316.0 Q1226.0,316.0 1220.0,288.0 Z" fill="#8f8f8f"/>
<circle cx="1286.2" cy="260.9" r="36.5" fill="#a5a5a5"/>
<circle cx="1286.2" cy="260.9" r="36.5" fill="none" stroke="#b2b2b2" stroke-width="1.2"/>
<circle cx="1286.2" cy="260.9" r="24" fill="#c6c6c6"/>
<circle cx="1286.2" cy="260.9" r="21" fill="#848484"/>
<circle cx="1286.2" cy="260.9" r="17.5" fill="#bcbcbc"/>
<g transform="rotate(-38 1286.2 260.9)"><rect x="1279.2" y="239.9" width="14" height="42" rx="5" fill="#b8b8b8"/><rect x="1284.2" y="272.9" width="4" height="9" rx="1.5" fill="#e8e8e8"/></g>
<circle cx="1370.1" cy="260.2" r="36.5" fill="#a5a5a5"/>
<circle cx="1370.1" cy="260.2" r="36.5" fill="none" stroke="#b2b2b2" stroke-width="1.2"/>
<circle cx="1370.1" cy="260.2" r="24" fill="#c6c6c6"/>
<circle cx="1370.1" cy="260.2" r="21" fill="#848484"/>
<circle cx="1370.1" cy="260.2" r="17.5" fill="#bcbcbc"/>
<g transform="rotate(38 1370.1 260.2)"><rect x="1363.1" y="239.2" width="14" height="42" rx="5" fill="#b8b8b8"/><rect x="1368.1" y="272.2" width="4" height="9" rx="1.5" fill="#e8e8e8"/></g>
<path d="M1316.0,217.0 L1340.0,217.0 L1337.5,236.0 L1319.0,236.0 Z" fill="#adadad"/>
<rect x="1317.0" y="217.0" width="22.0" height="4.0" fill="#c0c0c0"/>
<rect x="1326.0" y="227.5" width="3.0" height="3.0" fill="#dcdcdc"/>
<circle cx="1258.0" cy="250.6" r="1.8" fill="#cfcfcf"/>
<circle cx="1261.6" cy="243.7" r="1.8" fill="#cfcfcf"/>
<circle cx="1260.2" cy="275.9" r="1.8" fill="#cfcfcf"/>
<circle cx="1269.0" cy="285.5" r="1.8" fill="#cfcfcf"/>
<circle cx="1281.0" cy="290.4" r="1.8" fill="#cfcfcf"/>
<circle cx="1294.0" cy="289.9" r="1.8" fill="#cfcfcf"/>
<circle cx="1370.1" cy="230.2" r="1.8" fill="#cfcfcf"/>
<circle cx="1352.9" cy="235.6" r="1.8" fill="#cfcfcf"/>
<circle cx="1387.3" cy="235.6" r="1.8" fill="#cfcfcf"/>
<circle cx="1398.3" cy="249.9" r="1.8" fill="#cfcfcf"/>
<circle cx="1398.3" cy="270.5" r="1.8" fill="#cfcfcf"/>
<circle cx="1341.9" cy="270.5" r="1.8" fill="#cfcfcf"/>
<circle cx="1341.9" cy="249.9" r="1.8" fill="#cfcfcf"/>
<circle cx="1387.3" cy="284.8" r="1.8" fill="#cfcfcf"/>
<path d="M1247.0,340.0 L1413.0,340.0 L1413.0,361.0 L1262.0,361.0 Q1250.0,361.0 1247.0,347.0 Z" fill="#979797"/>
<rect x="1247.0" y="340.0" width="166.0" height="2.0" fill="#a6a6a6"/>
<rect x="1264.5" y="341.0" width="21.0" height="20.0" fill="#919191"/>
<rect x="1287.0" y="341.0" width="21.0" height="20.0" fill="#919191"/>
<rect x="1310.0" y="340.0" width="37.5" height="21.5" fill="#b7b7b7"/>
<path d="M1328.7,345.5 L1335.5,357.5 L1322.0,357.5 Z" fill="none" stroke="#d9d9d9" stroke-width="1.6"/>
<rect x="1349.5" y="341.0" width="20.0" height="20.0" fill="#919191"/>
<rect x="1371.5" y="341.0" width="20.0" height="20.0" fill="#919191"/>
<rect x="1393.5" y="341.0" width="19.5" height="20.0" rx="2" fill="#919191"/>
<rect x="1271.5" y="343.5" width="7.0" height="1.6" fill="#bdbdbd"/>
<rect x="1272.0" y="350.0" width="6.0" height="5.0" fill="#cdcdcd" opacity=".8"/>
<rect x="1294.0" y="343.5" width="7.0" height="1.6" fill="#bdbdbd"/>
<rect x="1294.5" y="350.0" width="6.0" height="5.0" fill="#cdcdcd" opacity=".8"/>
<rect x="1356.0" y="343.5" width="7.0" height="1.6" fill="#bdbdbd"/>
<rect x="1356.5" y="350.0" width="6.0" height="5.0" fill="#cdcdcd" opacity=".8"/>
<rect x="1378.0" y="343.5" width="7.0" height="1.6" fill="#bdbdbd"/>
<rect x="1378.5" y="350.0" width="6.0" height="5.0" fill="#cdcdcd" opacity=".8"/>
<rect x="1399.5" y="343.5" width="7.0" height="1.6" fill="#bdbdbd"/>
<rect x="1400.0" y="350.0" width="6.0" height="5.0" fill="#cdcdcd" opacity=".8"/>
<rect x="1247.0" y="361.0" width="166.0" height="4.0" fill="#888888"/>
<defs><linearGradient id="bowl4" x1="0" y1="0" x2="0" y2="1"><stop offset="0" stop-color="#a6a6a6"/><stop offset="0.6" stop-color="#8c8c8c"/><stop offset="1" stop-color="#848484"/></linearGradient></defs>
<path d="M1432.0,232.0 L1560.0,237.0 L1560.0,242.0 L1432.0,238.0 Z" fill="#b0b0b0"/>
<path d="M1535.0,240.0 L1560.0,240.0 L1560.0,390.0 L1490.0,390.0 L1500.0,372.0 Q1530.0,350.0 1540.0,300.0 Z" fill="#a2a2a2"/>
<path d="M1523.0,332.5 L1560.0,328.0 L1560.0,334.0 L1521.0,338.5 Z" fill="#c4c4c4"/>
<path d="M1520.0,340.0 L1560.0,335.0 L1560.0,390.0 L1492.0,390.0 Q1514.0,368.0 1520.0,340.0 Z" fill="#8e8e8e"/>
<path d="M1440.0,240.0 Q1440.0,231.0 1450.0,231.0 L1532.0,233.0 Q1543.0,234.0 1543.0,246.0 L1541.0,290.0 Q1536.0,335.0 1508.0,358.0 Q1480.0,374.0 1440.0,370.0 Q1426.0,366.0 1430.0,352.0 Q1438.0,330.0 1438.0,300.0 Z" fill="#a7a7a7"/>
<path d="M1445.0,246.0 Q1445.0,237.0 1454.0,237.0 L1528.0,238.0 Q1537.5,239.0 1537.5,249.0 L1535.0,296.0 Q1531.0,326.0 1512.0,340.0 L1436.0,340.0 Q1442.0,320.0 1443.0,296.0 Z" fill="#858585"/>
<path d="M1429.0,360.0 Q1432.0,368.0 1446.0,368.0 Q1476.0,370.0 1500.0,358.0 Q1522.0,344.0 1530.0,318.0 L1524.0,316.0 Q1516.0,340.0 1497.0,352.0 Q1474.0,363.0 1446.0,361.0 Q1434.0,360.0 1433.0,352.0 Z" fill="#6e6e6e"/>
<path d="M1436.0,338.0 L1512.0,338.0 Q1504.0,350.0 1490.0,357.0 Q1470.0,364.0 1446.0,362.0 Q1432.0,360.0 1433.5,350.0 Z" fill="#a3a3a3"/>
<path d="M1453.0,254.0 Q1453.0,249.0 1460.0,249.0 L1514.0,249.0 Q1521.0,249.0 1520.0,256.0 L1517.0,280.0 Q1511.0,309.0 1485.0,310.0 Q1461.0,310.0 1455.0,282.0 Z" fill="url(#bowl4)"/>
<ellipse cx="1481.5" cy="297.0" rx="22.5" ry="12.5" fill="#b0b0b0"/>
<ellipse cx="1481.3" cy="299.5" rx="20.5" ry="10.5" fill="#868686"/>
<path d="M1488.0,288.0 L1508.0,274.0 L1516.0,280.0 L1507.0,300.0 L1498.0,304.0 Z" fill="#b0b0b0"/>
<path d="M1451.5,256.0 Q1451.0,248.0 1461.0,248.0 L1513.0,248.0 Q1523.0,248.0 1522.0,257.0 L1519.0,282.0 Q1512.0,312.0 1485.0,312.5 Q1460.0,312.5 1453.5,284.0 Z" fill="none" stroke="#b9b9b9" stroke-width="3.6"/>
<path d="M1522.0,258.0 L1519.0,282.0 Q1515.0,298.0 1505.0,306.0" fill="none" stroke="#c2c2c2" stroke-width="5"/>
<rect x="1446.0" y="333.0" width="15.0" height="27.0" rx="5" fill="#bdbdbd"/>
<rect x="1464.0" y="338.0" width="13.0" height="22.0" rx="5" fill="#b0b0b0"/>
<rect x="1477.0" y="336.0" width="17.0" height="23.0" rx="5" fill="#bababa"/>
<rect x="1496.0" y="339.0" width="11.0" height="17.0" rx="4" fill="#adadad"/>
<rect x="1447.5" y="344.5" width="10.0" height="3.0" fill="#e0e0e0"/>
<rect x="1478.0" y="341.5" width="12.0" height="2.6" fill="#e0e0e0"/>
<path d="M1100,237 L1222,232 L1222,236 L1100,241.5 Z" fill="#b5b5b5"/>
<path d="M1111,240 L1214,236.5 Q1222,236.5 1222,246 L1222,352 Q1205,364 1180,365 Q1150,366 1137,340 Q1122,300 1111,240 Z" fill="#9c9c9c"/>
<path d="M1111,240 L1117,240 Q1128,300 1143,340 Q1155,362 1180,362 L1180,365 Q1150,366 1137,340 Q1122,300 1111,240 Z" fill="#919191"/>
<path d="M1100,322 L1128,322 Q1140,350 1160,377 L1146,377 Q1128,352 1122,334 L1100,334 Z" fill="#bbbbbb"/>
<path d="M1100,334 L1122,334 Q1128,352 1146,377 L1100,377 Z" fill="#989898"/>
<path d="M1100,343 L1116,343 Q1124,360 1136,377 L1100,377 Z" fill="#a4a4a4"/>
<rect x="1100" y="241" width="12" height="45" fill="#989898"/>
<path d="M1145.8,258.4 L1166.2,258.4 L1166.2,275.4 L1145.8,275.4 Z" fill="#b6b6b6"/>
<circle cx="1172.2" cy="266.2" r="14.5" fill="#bcbcbc"/><circle cx="1172.2" cy="266.2" r="14.5" fill="none" stroke="#8a8a8a" stroke-width="1"/>
<circle cx="1172.2" cy="266.2" r="11" fill="#6f6f6f"/><circle cx="1172.2" cy="266.2" r="8.3" fill="#8d8d8d"/><circle cx="1172.2" cy="266.2" r="6" fill="#b1b1b1"/>
<circle cx="1145.8" cy="266.9" r="9.6" fill="#6a6a6a"/>
<text x="1145.8" y="271.09999999999997" font-size="12" style="fill:#d6d6d6">D</text>
<path d="M1151.4,288.3 L1172.5,288.3 L1172.5,305.3 L1151.4,305.3 Z" fill="#b6b6b6"/>
<circle cx="1178.5" cy="296.1" r="14.5" fill="#bcbcbc"/><circle cx="1178.5" cy="296.1" r="14.5" fill="none" stroke="#8a8a8a" stroke-width="1"/>
<circle cx="1178.5" cy="296.1" r="11" fill="#6f6f6f"/><circle cx="1178.5" cy="296.1" r="8.3" fill="#8d8d8d"/><circle cx="1178.5" cy="296.1" r="6" fill="#b1b1b1"/>
<circle cx="1151.4" cy="296.8" r="9.6" fill="#6a6a6a"/>
<text x="1151.4" y="301.0" font-size="12" style="fill:#d6d6d6">N</text>
<path d="M1157.6,318.9 L1178.7,318.9 L1178.7,335.9 L1157.6,335.9 Z" fill="#b6b6b6"/>
<circle cx="1184.7" cy="326.7" r="14.5" fill="#bcbcbc"/><circle cx="1184.7" cy="326.7" r="14.5" fill="none" stroke="#8a8a8a" stroke-width="1"/>
<circle cx="1184.7" cy="326.7" r="11" fill="#6f6f6f"/><circle cx="1184.7" cy="326.7" r="8.3" fill="#8d8d8d"/><circle cx="1184.7" cy="326.7" r="6" fill="#b1b1b1"/>
<circle cx="1157.6" cy="327.4" r="9.6" fill="#6a6a6a"/>
<text x="1157.6" y="331.59999999999997" font-size="12" style="fill:#d6d6d6">R</text>
<path d="M1160,377 L1160,370 Q1300,366 1440,370 L1500,377 Z" fill="#9b9b9b"/>
</g>
<g transform="translate(1328.7,200.2)"><g transform="scale(1.0,1)"><path transform="rotate(0)" d="M0,-19.23 L9.62,-9.62 A13.6,13.6 0 1 1 -9.62,-9.62 Z" fill="#c4232b" stroke="#f9e2dc" stroke-width="2.0" stroke-linejoin="round"/></g><g transform="scale(1.0)"><path d="M-1.4,-7.9 L2.9,-7.9 L2.9,7.9 L-1.3,7.9 L-1.3,-3.2 L-5.0,-1.9 L-5.0,-5.2 Q-2.4,-5.9 -1.4,-7.9 Z" fill="#fff" transform="translate(0.6,0)"/></g></g>
<g transform="translate(1328.7,280.2)"><g transform="scale(1.0,1)"><path transform="rotate(0)" d="M0,-19.23 L9.62,-9.62 A13.6,13.6 0 1 1 -9.62,-9.62 Z" fill="#c4232b" stroke="#f9e2dc" stroke-width="2.0" stroke-linejoin="round"/></g><g transform="scale(1.0)"><text x="0" y="8.1" font-size="22.8" stroke="#fff" stroke-width="0.4">2</text></g></g>
<g transform="translate(1528.0,247.9)"><g transform="scale(1.0,1)"><path transform="rotate(225)" d="M0,-19.23 L9.62,-9.62 A13.6,13.6 0 1 1 -9.62,-9.62 Z" fill="#c4232b" stroke="#f9e2dc" stroke-width="2.0" stroke-linejoin="round"/></g><g transform="scale(1.0)"><text x="0" y="8.1" font-size="22.8" stroke="#fff" stroke-width="0.4">3</text></g></g>
<g transform="translate(1507.5,325.0)"><g transform="scale(1.0,1)"><path transform="rotate(225)" d="M0,-18.81 L9.40,-9.41 A13.3,13.3 0 1 1 -9.40,-9.41 Z" fill="#c4232b" stroke="#f9e2dc" stroke-width="2.0" stroke-linejoin="round"/></g><g transform="scale(0.97)"><text x="0" y="8.1" font-size="22.8" stroke="#fff" stroke-width="0.4">4</text></g></g>
<g transform="translate(1467.6,324.0)"><g transform="scale(1.0,1)"><path transform="rotate(225)" d="M0,-18.81 L9.40,-9.41 A13.3,13.3 0 1 1 -9.40,-9.41 Z" fill="#c4232b" stroke="#f9e2dc" stroke-width="2.0" stroke-linejoin="round"/></g><g transform="scale(0.97)"><text x="0" y="8.1" font-size="22.8" stroke="#fff" stroke-width="0.4">5</text></g></g>
<g transform="translate(1400.6,318.0)"><g transform="scale(1.0,1)"><path transform="rotate(180)" d="M0,-20.70 L10.14,-8.29 A13.1,13.1 0 1 1 -10.14,-8.29 Z" fill="#c4232b" stroke="#f9e2dc" stroke-width="2.0" stroke-linejoin="round"/></g><g transform="scale(0.97)"><text x="0" y="8.1" font-size="22.8" stroke="#fff" stroke-width="0.4">6</text></g></g>
<g transform="translate(1376.0,318.0)"><g transform="scale(1.0,1)"><path transform="rotate(180)" d="M0,-20.70 L10.14,-8.29 A13.1,13.1 0 1 1 -10.14,-8.29 Z" fill="#c4232b" stroke="#f9e2dc" stroke-width="2.0" stroke-linejoin="round"/></g><g transform="scale(0.97)"><text x="0" y="8.1" font-size="22.8" stroke="#fff" stroke-width="0.4">7</text></g></g>
<g transform="translate(1352.8,318.0)"><g transform="scale(1.0,1)"><path transform="rotate(180)" d="M0,-20.70 L10.14,-8.29 A13.1,13.1 0 1 1 -10.14,-8.29 Z" fill="#c4232b" stroke="#f9e2dc" stroke-width="2.0" stroke-linejoin="round"/></g><g transform="scale(0.97)"><text x="0" y="8.1" font-size="22.8" stroke="#fff" stroke-width="0.4">8</text></g></g>
<g transform="translate(1328.6,318.0)"><g transform="scale(1.0,1)"><path transform="rotate(180)" d="M0,-20.70 L10.14,-8.29 A13.1,13.1 0 1 1 -10.14,-8.29 Z" fill="#c4232b" stroke="#f9e2dc" stroke-width="2.0" stroke-linejoin="round"/></g><g transform="scale(0.97)"><text x="0" y="8.1" font-size="22.8" stroke="#fff" stroke-width="0.4">9</text></g></g>
<g transform="translate(1299.0,318.0)"><g transform="scale(1.0,1)"><path transform="rotate(180)" d="M0,-20.70 L10.14,-8.29 A13.1,13.1 0 1 1 -10.14,-8.29 Z" fill="#c4232b" stroke="#f9e2dc" stroke-width="2.0" stroke-linejoin="round"/></g><g transform="scale(0.97)"><path d="M-1.4,-7.9 L2.9,-7.9 L2.9,7.9 L-1.3,7.9 L-1.3,-3.2 L-5.0,-1.9 L-5.0,-5.2 Q-2.4,-5.9 -1.4,-7.9 Z" fill="#fff" transform="translate(-5.2,0)"/><text x="4.4" y="7.9" font-size="22.2" textLength="11.6" lengthAdjust="spacingAndGlyphs" stroke="#fff" stroke-width="0.4">0</text></g></g>
<g transform="translate(1271.2,318.0)"><g transform="scale(1.0,1)"><path transform="rotate(180)" d="M0,-20.70 L10.14,-8.29 A13.1,13.1 0 1 1 -10.14,-8.29 Z" fill="#c4232b" stroke="#f9e2dc" stroke-width="2.0" stroke-linejoin="round"/></g><g transform="scale(0.97)"><path d="M-1.4,-7.9 L2.9,-7.9 L2.9,7.9 L-1.3,7.9 L-1.3,-3.2 L-5.0,-1.9 L-5.0,-5.2 Q-2.4,-5.9 -1.4,-7.9 Z" fill="#fff" transform="translate(-4.0,0)"/><path d="M-1.4,-7.9 L2.9,-7.9 L2.9,7.9 L-1.3,7.9 L-1.3,-3.2 L-5.0,-1.9 L-5.0,-5.2 Q-2.4,-5.9 -1.4,-7.9 Z" fill="#fff" transform="translate(5.4,0)"/></g></g>
<g transform="translate(1158.2,228.4)"><g transform="scale(1.0,1)"><path transform="rotate(180)" d="M0,-19.73 L9.85,-10.36 A14.3,14.3 0 1 1 -9.85,-10.36 Z" fill="#c4232b" stroke="#f9e2dc" stroke-width="2.0" stroke-linejoin="round"/></g><g transform="scale(1.05)"><path d="M-1.4,-7.9 L2.9,-7.9 L2.9,7.9 L-1.3,7.9 L-1.3,-3.2 L-5.0,-1.9 L-5.0,-5.2 Q-2.4,-5.9 -1.4,-7.9 Z" fill="#fff" transform="translate(-5.2,0)"/><text x="4.4" y="7.9" font-size="22.2" textLength="11.6" lengthAdjust="spacingAndGlyphs" stroke="#fff" stroke-width="0.4">2</text></g></g>
</svg>
</body></html>
